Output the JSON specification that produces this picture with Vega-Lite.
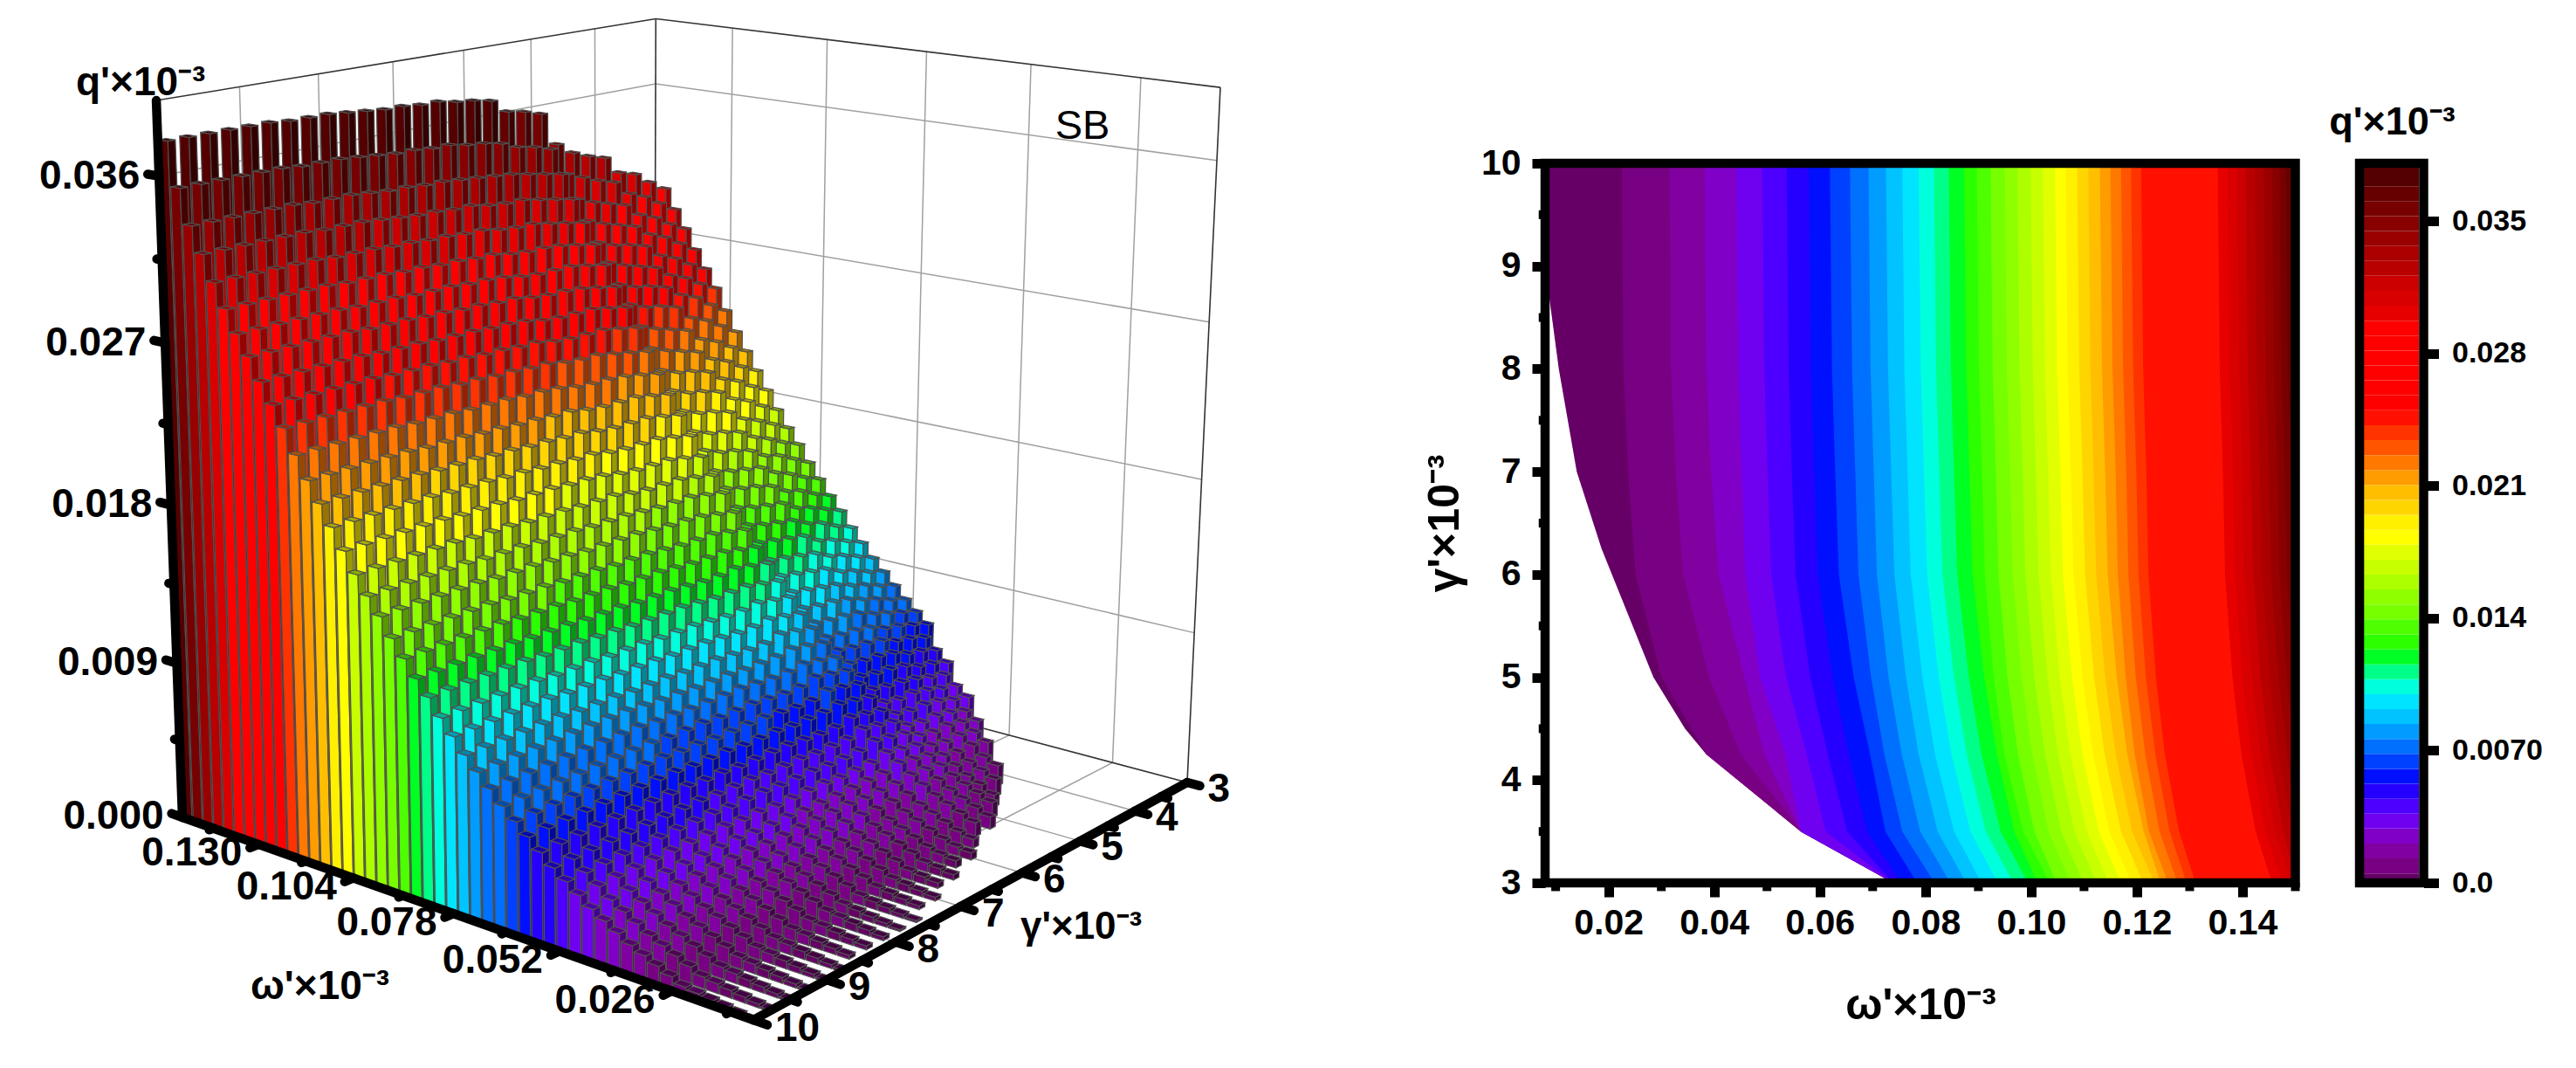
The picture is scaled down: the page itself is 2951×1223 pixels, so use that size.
{"$schema":"https://vega.github.io/schema/vega-lite/v6.json","width":2951,"height":1223,"autosize":{"type":"none"},"padding":0,"background":"white",
"config":{"view":{"stroke":null},"font":"Liberation Sans"},
"params":[{"name":"pal","value":["#660066","#780082","#8000a0","#8000c8","#7000f0","#4d00ff","#2600ff","#0010ff","#0040ff","#0070ff","#009cff","#00c3ff","#00e4ff","#00ffdc","#00ff88","#00ff22","#2bff00","#4dff00","#77ff00","#8fff00","#adff00","#c8ff00","#e0ff00","#ffff00","#fff000","#ffd500","#ffbf00","#ff9c00","#ff7800","#ff5500","#ff3300","#ff1000","#ff0000","#ff0000","#ff0000","#ff0000","#ff0000","#ff0000","#e60000","#d80000","#cc0000","#b80000","#aa0000","#990000","#880000","#770000","#660000","#550000"]}],
"datasets":{
"bars":[
{"w":0.15,"g":3,"q":0.0296},{"w":0.147,"g":3,"q":0.0284},{"w":0.144,"g":3,"q":0.0273},{"w":0.141,"g":3,"q":0.0261},{"w":0.138,"g":3,"q":0.025},{"w":0.135,"g":3,"q":0.0239},{"w":0.132,"g":3,"q":0.0226},{"w":0.129,"g":3,"q":0.0214},{"w":0.126,"g":3,"q":0.0203},{"w":0.123,"g":3,"q":0.0192},{"w":0.12,"g":3,"q":0.0181},{"w":0.117,"g":3,"q":0.017},{"w":0.114,"g":3,"q":0.016},{"w":0.111,"g":3,"q":0.0151},{"w":0.108,"g":3,"q":0.0141},{"w":0.105,"g":3,"q":0.0132},{"w":0.102,"g":3,"q":0.0123},{"w":0.099,"g":3,"q":0.0115},{"w":0.096,"g":3,"q":0.0106},{"w":0.093,"g":3,"q":0.0098},{"w":0.09,"g":3,"q":0.009},{"w":0.087,"g":3,"q":0.0083},{"w":0.084,"g":3,"q":0.0076},{"w":0.081,"g":3,"q":0.0069},{"w":0.078,"g":3,"q":0.0063},{"w":0.075,"g":3,"q":0.0057},
{"w":0.15,"g":3.25,"q":0.0302},{"w":0.147,"g":3.25,"q":0.029},{"w":0.144,"g":3.25,"q":0.0278},{"w":0.141,"g":3.25,"q":0.0267},{"w":0.138,"g":3.25,"q":0.0255},{"w":0.135,"g":3.25,"q":0.0244},{"w":0.132,"g":3.25,"q":0.0232},{"w":0.129,"g":3.25,"q":0.022},{"w":0.126,"g":3.25,"q":0.0208},{"w":0.123,"g":3.25,"q":0.0197},{"w":0.12,"g":3.25,"q":0.0186},{"w":0.117,"g":3.25,"q":0.0175},{"w":0.114,"g":3.25,"q":0.0165},{"w":0.111,"g":3.25,"q":0.0155},{"w":0.108,"g":3.25,"q":0.0146},{"w":0.105,"g":3.25,"q":0.0136},{"w":0.102,"g":3.25,"q":0.0127},{"w":0.099,"g":3.25,"q":0.0119},{"w":0.096,"g":3.25,"q":0.011},{"w":0.093,"g":3.25,"q":0.0102},{"w":0.09,"g":3.25,"q":0.0094},{"w":0.087,"g":3.25,"q":0.0086},{"w":0.084,"g":3.25,"q":0.0079},{"w":0.081,"g":3.25,"q":0.0072},{"w":0.078,"g":3.25,"q":0.0066},{"w":0.075,"g":3.25,"q":0.006},{"w":0.072,"g":3.25,"q":0.0054},{"w":0.069,"g":3.25,"q":0.0048},{"w":0.066,"g":3.25,"q":0.0042},
{"w":0.15,"g":3.5,"q":0.0309},{"w":0.147,"g":3.5,"q":0.0296},{"w":0.144,"g":3.5,"q":0.0284},{"w":0.141,"g":3.5,"q":0.0273},{"w":0.138,"g":3.5,"q":0.0261},{"w":0.135,"g":3.5,"q":0.025},{"w":0.132,"g":3.5,"q":0.0239},{"w":0.129,"g":3.5,"q":0.0226},{"w":0.126,"g":3.5,"q":0.0214},{"w":0.123,"g":3.5,"q":0.0203},{"w":0.12,"g":3.5,"q":0.0192},{"w":0.117,"g":3.5,"q":0.0181},{"w":0.114,"g":3.5,"q":0.017},{"w":0.111,"g":3.5,"q":0.016},{"w":0.108,"g":3.5,"q":0.0151},{"w":0.105,"g":3.5,"q":0.0141},{"w":0.102,"g":3.5,"q":0.0132},{"w":0.099,"g":3.5,"q":0.0123},{"w":0.096,"g":3.5,"q":0.0115},{"w":0.093,"g":3.5,"q":0.0106},{"w":0.09,"g":3.5,"q":0.0098},{"w":0.087,"g":3.5,"q":0.009},{"w":0.084,"g":3.5,"q":0.0083},{"w":0.081,"g":3.5,"q":0.0076},{"w":0.078,"g":3.5,"q":0.0069},{"w":0.075,"g":3.5,"q":0.0063},{"w":0.072,"g":3.5,"q":0.0057},{"w":0.069,"g":3.5,"q":0.0051},{"w":0.066,"g":3.5,"q":0.0045},{"w":0.063,"g":3.5,"q":0.004},{"w":0.06,"g":3.5,"q":0.0035},{"w":0.057,"g":3.5,"q":0.003},
{"w":0.15,"g":3.75,"q":0.0312},{"w":0.147,"g":3.75,"q":0.03},{"w":0.144,"g":3.75,"q":0.0288},{"w":0.141,"g":3.75,"q":0.0277},{"w":0.138,"g":3.75,"q":0.0265},{"w":0.135,"g":3.75,"q":0.0254},{"w":0.132,"g":3.75,"q":0.0243},{"w":0.129,"g":3.75,"q":0.023},{"w":0.126,"g":3.75,"q":0.0218},{"w":0.123,"g":3.75,"q":0.0207},{"w":0.12,"g":3.75,"q":0.0196},{"w":0.117,"g":3.75,"q":0.0185},{"w":0.114,"g":3.75,"q":0.0174},{"w":0.111,"g":3.75,"q":0.0164},{"w":0.108,"g":3.75,"q":0.0154},{"w":0.105,"g":3.75,"q":0.0145},{"w":0.102,"g":3.75,"q":0.0135},{"w":0.099,"g":3.75,"q":0.0126},{"w":0.096,"g":3.75,"q":0.0118},{"w":0.093,"g":3.75,"q":0.0109},{"w":0.09,"g":3.75,"q":0.0101},{"w":0.087,"g":3.75,"q":0.0093},{"w":0.084,"g":3.75,"q":0.0086},{"w":0.081,"g":3.75,"q":0.0079},{"w":0.078,"g":3.75,"q":0.0072},{"w":0.075,"g":3.75,"q":0.0065},{"w":0.072,"g":3.75,"q":0.0059},{"w":0.069,"g":3.75,"q":0.0053},{"w":0.066,"g":3.75,"q":0.0047},{"w":0.063,"g":3.75,"q":0.0042},{"w":0.06,"g":3.75,"q":0.0037},{"w":0.057,"g":3.75,"q":0.0032},{"w":0.054,"g":3.75,"q":0.0027},{"w":0.051,"g":3.75,"q":0.0023},
{"w":0.15,"g":4,"q":0.0323},{"w":0.147,"g":4,"q":0.0309},{"w":0.144,"g":4,"q":0.0296},{"w":0.141,"g":4,"q":0.0284},{"w":0.138,"g":4,"q":0.0273},{"w":0.135,"g":4,"q":0.0261},{"w":0.132,"g":4,"q":0.025},{"w":0.129,"g":4,"q":0.0239},{"w":0.126,"g":4,"q":0.0226},{"w":0.123,"g":4,"q":0.0214},{"w":0.12,"g":4,"q":0.0203},{"w":0.117,"g":4,"q":0.0192},{"w":0.114,"g":4,"q":0.0181},{"w":0.111,"g":4,"q":0.017},{"w":0.108,"g":4,"q":0.016},{"w":0.105,"g":4,"q":0.0151},{"w":0.102,"g":4,"q":0.0141},{"w":0.099,"g":4,"q":0.0132},{"w":0.096,"g":4,"q":0.0123},{"w":0.093,"g":4,"q":0.0115},{"w":0.09,"g":4,"q":0.0106},{"w":0.087,"g":4,"q":0.0098},{"w":0.084,"g":4,"q":0.009},{"w":0.081,"g":4,"q":0.0083},{"w":0.078,"g":4,"q":0.0076},{"w":0.075,"g":4,"q":0.0069},{"w":0.072,"g":4,"q":0.0063},{"w":0.069,"g":4,"q":0.0057},{"w":0.066,"g":4,"q":0.0051},{"w":0.063,"g":4,"q":0.0045},{"w":0.06,"g":4,"q":0.004},{"w":0.057,"g":4,"q":0.0035},{"w":0.054,"g":4,"q":0.003},{"w":0.051,"g":4,"q":0.0026},{"w":0.048,"g":4,"q":0.0022},{"w":0.045,"g":4,"q":0.0018},
{"w":0.15,"g":4.25,"q":0.0326},{"w":0.147,"g":4.25,"q":0.0312},{"w":0.144,"g":4.25,"q":0.0299},{"w":0.141,"g":4.25,"q":0.0287},{"w":0.138,"g":4.25,"q":0.0276},{"w":0.135,"g":4.25,"q":0.0264},{"w":0.132,"g":4.25,"q":0.0253},{"w":0.129,"g":4.25,"q":0.0242},{"w":0.126,"g":4.25,"q":0.0229},{"w":0.123,"g":4.25,"q":0.0217},{"w":0.12,"g":4.25,"q":0.0206},{"w":0.117,"g":4.25,"q":0.0195},{"w":0.114,"g":4.25,"q":0.0184},{"w":0.111,"g":4.25,"q":0.0173},{"w":0.108,"g":4.25,"q":0.0163},{"w":0.105,"g":4.25,"q":0.0153},{"w":0.102,"g":4.25,"q":0.0144},{"w":0.099,"g":4.25,"q":0.0134},{"w":0.096,"g":4.25,"q":0.0125},{"w":0.093,"g":4.25,"q":0.0117},{"w":0.09,"g":4.25,"q":0.0108},{"w":0.087,"g":4.25,"q":0.01},{"w":0.084,"g":4.25,"q":0.0092},{"w":0.081,"g":4.25,"q":0.0085},{"w":0.078,"g":4.25,"q":0.0078},{"w":0.075,"g":4.25,"q":0.0071},{"w":0.072,"g":4.25,"q":0.0065},{"w":0.069,"g":4.25,"q":0.0059},{"w":0.066,"g":4.25,"q":0.0053},{"w":0.063,"g":4.25,"q":0.0047},{"w":0.06,"g":4.25,"q":0.0042},{"w":0.057,"g":4.25,"q":0.0037},{"w":0.054,"g":4.25,"q":0.0032},{"w":0.051,"g":4.25,"q":0.0028},{"w":0.048,"g":4.25,"q":0.0024},{"w":0.045,"g":4.25,"q":0.002},{"w":0.042,"g":4.25,"q":0.0015},{"w":0.039,"g":4.25,"q":0.0012},
{"w":0.15,"g":4.5,"q":0.033},{"w":0.147,"g":4.5,"q":0.0316},{"w":0.144,"g":4.5,"q":0.0302},{"w":0.141,"g":4.5,"q":0.029},{"w":0.138,"g":4.5,"q":0.0278},{"w":0.135,"g":4.5,"q":0.0267},{"w":0.132,"g":4.5,"q":0.0255},{"w":0.129,"g":4.5,"q":0.0244},{"w":0.126,"g":4.5,"q":0.0232},{"w":0.123,"g":4.5,"q":0.022},{"w":0.12,"g":4.5,"q":0.0208},{"w":0.117,"g":4.5,"q":0.0197},{"w":0.114,"g":4.5,"q":0.0186},{"w":0.111,"g":4.5,"q":0.0175},{"w":0.108,"g":4.5,"q":0.0165},{"w":0.105,"g":4.5,"q":0.0155},{"w":0.102,"g":4.5,"q":0.0146},{"w":0.099,"g":4.5,"q":0.0136},{"w":0.096,"g":4.5,"q":0.0127},{"w":0.093,"g":4.5,"q":0.0119},{"w":0.09,"g":4.5,"q":0.011},{"w":0.087,"g":4.5,"q":0.0102},{"w":0.084,"g":4.5,"q":0.0094},{"w":0.081,"g":4.5,"q":0.0086},{"w":0.078,"g":4.5,"q":0.0079},{"w":0.075,"g":4.5,"q":0.0072},{"w":0.072,"g":4.5,"q":0.0066},{"w":0.069,"g":4.5,"q":0.006},{"w":0.066,"g":4.5,"q":0.0054},{"w":0.063,"g":4.5,"q":0.0048},{"w":0.06,"g":4.5,"q":0.0042},{"w":0.057,"g":4.5,"q":0.0037},{"w":0.054,"g":4.5,"q":0.0032},{"w":0.051,"g":4.5,"q":0.0028},{"w":0.048,"g":4.5,"q":0.0024},{"w":0.045,"g":4.5,"q":0.002},{"w":0.042,"g":4.5,"q":0.0016},{"w":0.039,"g":4.5,"q":0.0013},{"w":0.036,"g":4.5,"q":0.001},
{"w":0.15,"g":4.75,"q":0.0337},{"w":0.147,"g":4.75,"q":0.032},{"w":0.144,"g":4.75,"q":0.0306},{"w":0.141,"g":4.75,"q":0.0294},{"w":0.138,"g":4.75,"q":0.0282},{"w":0.135,"g":4.75,"q":0.0271},{"w":0.132,"g":4.75,"q":0.0259},{"w":0.129,"g":4.75,"q":0.0248},{"w":0.126,"g":4.75,"q":0.0236},{"w":0.123,"g":4.75,"q":0.0224},{"w":0.12,"g":4.75,"q":0.0212},{"w":0.117,"g":4.75,"q":0.0201},{"w":0.114,"g":4.75,"q":0.019},{"w":0.111,"g":4.75,"q":0.0179},{"w":0.108,"g":4.75,"q":0.0169},{"w":0.105,"g":4.75,"q":0.0158},{"w":0.102,"g":4.75,"q":0.0149},{"w":0.099,"g":4.75,"q":0.0139},{"w":0.096,"g":4.75,"q":0.013},{"w":0.093,"g":4.75,"q":0.0121},{"w":0.09,"g":4.75,"q":0.0112},{"w":0.087,"g":4.75,"q":0.0104},{"w":0.084,"g":4.75,"q":0.0096},{"w":0.081,"g":4.75,"q":0.0088},{"w":0.078,"g":4.75,"q":0.0081},{"w":0.075,"g":4.75,"q":0.0074},{"w":0.072,"g":4.75,"q":0.0068},{"w":0.069,"g":4.75,"q":0.0062},{"w":0.066,"g":4.75,"q":0.0056},{"w":0.063,"g":4.75,"q":0.005},{"w":0.06,"g":4.75,"q":0.0044},{"w":0.057,"g":4.75,"q":0.0039},{"w":0.054,"g":4.75,"q":0.0034},{"w":0.051,"g":4.75,"q":0.003},{"w":0.048,"g":4.75,"q":0.0026},{"w":0.045,"g":4.75,"q":0.0022},{"w":0.042,"g":4.75,"q":0.0018},{"w":0.039,"g":4.75,"q":0.0014},{"w":0.036,"g":4.75,"q":0.0011},{"w":0.033,"g":4.75,"q":0.0007},
{"w":0.15,"g":5,"q":0.0357},{"w":0.147,"g":5,"q":0.0337},{"w":0.144,"g":5,"q":0.0323},{"w":0.141,"g":5,"q":0.0309},{"w":0.138,"g":5,"q":0.0296},{"w":0.135,"g":5,"q":0.0284},{"w":0.132,"g":5,"q":0.0273},{"w":0.129,"g":5,"q":0.0261},{"w":0.126,"g":5,"q":0.025},{"w":0.123,"g":5,"q":0.0239},{"w":0.12,"g":5,"q":0.0226},{"w":0.117,"g":5,"q":0.0214},{"w":0.114,"g":5,"q":0.0203},{"w":0.111,"g":5,"q":0.0192},{"w":0.108,"g":5,"q":0.0181},{"w":0.105,"g":5,"q":0.017},{"w":0.102,"g":5,"q":0.016},{"w":0.099,"g":5,"q":0.0151},{"w":0.096,"g":5,"q":0.0141},{"w":0.093,"g":5,"q":0.0132},{"w":0.09,"g":5,"q":0.0123},{"w":0.087,"g":5,"q":0.0115},{"w":0.084,"g":5,"q":0.0106},{"w":0.081,"g":5,"q":0.0098},{"w":0.078,"g":5,"q":0.009},{"w":0.075,"g":5,"q":0.0083},{"w":0.072,"g":5,"q":0.0076},{"w":0.069,"g":5,"q":0.0069},{"w":0.066,"g":5,"q":0.0063},{"w":0.063,"g":5,"q":0.0057},{"w":0.06,"g":5,"q":0.0051},{"w":0.057,"g":5,"q":0.0045},{"w":0.054,"g":5,"q":0.004},{"w":0.051,"g":5,"q":0.0035},{"w":0.048,"g":5,"q":0.003},{"w":0.045,"g":5,"q":0.0026},{"w":0.042,"g":5,"q":0.0022},{"w":0.039,"g":5,"q":0.0018},{"w":0.036,"g":5,"q":0.0015},{"w":0.033,"g":5,"q":0.0012},{"w":0.03,"g":5,"q":0.0009},
{"w":0.15,"g":5.25,"q":0.036},{"w":0.147,"g":5.25,"q":0.034},{"w":0.144,"g":5.25,"q":0.0325},{"w":0.141,"g":5.25,"q":0.0311},{"w":0.138,"g":5.25,"q":0.0298},{"w":0.135,"g":5.25,"q":0.0286},{"w":0.132,"g":5.25,"q":0.0275},{"w":0.129,"g":5.25,"q":0.0263},{"w":0.126,"g":5.25,"q":0.0252},{"w":0.123,"g":5.25,"q":0.0241},{"w":0.12,"g":5.25,"q":0.0228},{"w":0.117,"g":5.25,"q":0.0216},{"w":0.114,"g":5.25,"q":0.0205},{"w":0.111,"g":5.25,"q":0.0194},{"w":0.108,"g":5.25,"q":0.0183},{"w":0.105,"g":5.25,"q":0.0172},{"w":0.102,"g":5.25,"q":0.0162},{"w":0.099,"g":5.25,"q":0.0153},{"w":0.096,"g":5.25,"q":0.0143},{"w":0.093,"g":5.25,"q":0.0134},{"w":0.09,"g":5.25,"q":0.0125},{"w":0.087,"g":5.25,"q":0.0117},{"w":0.084,"g":5.25,"q":0.0108},{"w":0.081,"g":5.25,"q":0.01},{"w":0.078,"g":5.25,"q":0.0092},{"w":0.075,"g":5.25,"q":0.0085},{"w":0.072,"g":5.25,"q":0.0078},{"w":0.069,"g":5.25,"q":0.0071},{"w":0.066,"g":5.25,"q":0.0065},{"w":0.063,"g":5.25,"q":0.0059},{"w":0.06,"g":5.25,"q":0.0053},{"w":0.057,"g":5.25,"q":0.0047},{"w":0.054,"g":5.25,"q":0.0042},{"w":0.051,"g":5.25,"q":0.0037},{"w":0.048,"g":5.25,"q":0.0032},{"w":0.045,"g":5.25,"q":0.0028},{"w":0.042,"g":5.25,"q":0.0024},{"w":0.039,"g":5.25,"q":0.002},{"w":0.036,"g":5.25,"q":0.0016},{"w":0.033,"g":5.25,"q":0.0013},{"w":0.03,"g":5.25,"q":0.001},{"w":0.027,"g":5.25,"q":0.0007},
{"w":0.15,"g":5.5,"q":0.0362},{"w":0.147,"g":5.5,"q":0.0342},{"w":0.144,"g":5.5,"q":0.0327},{"w":0.141,"g":5.5,"q":0.0313},{"w":0.138,"g":5.5,"q":0.03},{"w":0.135,"g":5.5,"q":0.0288},{"w":0.132,"g":5.5,"q":0.0277},{"w":0.129,"g":5.5,"q":0.0265},{"w":0.126,"g":5.5,"q":0.0254},{"w":0.123,"g":5.5,"q":0.0243},{"w":0.12,"g":5.5,"q":0.023},{"w":0.117,"g":5.5,"q":0.0218},{"w":0.114,"g":5.5,"q":0.0207},{"w":0.111,"g":5.5,"q":0.0196},{"w":0.108,"g":5.5,"q":0.0185},{"w":0.105,"g":5.5,"q":0.0174},{"w":0.102,"g":5.5,"q":0.0164},{"w":0.099,"g":5.5,"q":0.0155},{"w":0.096,"g":5.5,"q":0.0145},{"w":0.093,"g":5.5,"q":0.0136},{"w":0.09,"g":5.5,"q":0.0127},{"w":0.087,"g":5.5,"q":0.0119},{"w":0.084,"g":5.5,"q":0.011},{"w":0.081,"g":5.5,"q":0.0102},{"w":0.078,"g":5.5,"q":0.0094},{"w":0.075,"g":5.5,"q":0.0087},{"w":0.072,"g":5.5,"q":0.008},{"w":0.069,"g":5.5,"q":0.0073},{"w":0.066,"g":5.5,"q":0.0067},{"w":0.063,"g":5.5,"q":0.0061},{"w":0.06,"g":5.5,"q":0.0055},{"w":0.057,"g":5.5,"q":0.0049},{"w":0.054,"g":5.5,"q":0.0044},{"w":0.051,"g":5.5,"q":0.0039},{"w":0.048,"g":5.5,"q":0.0034},{"w":0.045,"g":5.5,"q":0.003},{"w":0.042,"g":5.5,"q":0.0025},{"w":0.039,"g":5.5,"q":0.0021},{"w":0.036,"g":5.5,"q":0.0017},{"w":0.033,"g":5.5,"q":0.0014},{"w":0.03,"g":5.5,"q":0.0011},{"w":0.027,"g":5.5,"q":0.0008},
{"w":0.15,"g":5.75,"q":0.037},{"w":0.147,"g":5.75,"q":0.0346},{"w":0.144,"g":5.75,"q":0.0329},{"w":0.141,"g":5.75,"q":0.0315},{"w":0.138,"g":5.75,"q":0.0302},{"w":0.135,"g":5.75,"q":0.0289},{"w":0.132,"g":5.75,"q":0.0277},{"w":0.129,"g":5.75,"q":0.0266},{"w":0.126,"g":5.75,"q":0.0254},{"w":0.123,"g":5.75,"q":0.0243},{"w":0.12,"g":5.75,"q":0.0232},{"w":0.117,"g":5.75,"q":0.0219},{"w":0.114,"g":5.75,"q":0.0207},{"w":0.111,"g":5.75,"q":0.0196},{"w":0.108,"g":5.75,"q":0.0185},{"w":0.105,"g":5.75,"q":0.0174},{"w":0.102,"g":5.75,"q":0.0164},{"w":0.099,"g":5.75,"q":0.0155},{"w":0.096,"g":5.75,"q":0.0146},{"w":0.093,"g":5.75,"q":0.0136},{"w":0.09,"g":5.75,"q":0.0127},{"w":0.087,"g":5.75,"q":0.0118},{"w":0.084,"g":5.75,"q":0.011},{"w":0.081,"g":5.75,"q":0.0101},{"w":0.078,"g":5.75,"q":0.0093},{"w":0.075,"g":5.75,"q":0.0085},{"w":0.072,"g":5.75,"q":0.0079},{"w":0.069,"g":5.75,"q":0.0072},{"w":0.066,"g":5.75,"q":0.0065},{"w":0.063,"g":5.75,"q":0.0059},{"w":0.06,"g":5.75,"q":0.0054},{"w":0.057,"g":5.75,"q":0.0047},{"w":0.054,"g":5.75,"q":0.0042},{"w":0.051,"g":5.75,"q":0.0037},{"w":0.048,"g":5.75,"q":0.0032},{"w":0.045,"g":5.75,"q":0.0028},{"w":0.042,"g":5.75,"q":0.0024},{"w":0.039,"g":5.75,"q":0.002},{"w":0.036,"g":5.75,"q":0.0016},{"w":0.033,"g":5.75,"q":0.0013},{"w":0.03,"g":5.75,"q":0.001},{"w":0.027,"g":5.75,"q":0.0007},{"w":0.024,"g":5.75,"q":0.0005},
{"w":0.15,"g":6,"q":0.0372},{"w":0.147,"g":6,"q":0.0348},{"w":0.144,"g":6,"q":0.033},{"w":0.141,"g":6,"q":0.0315},{"w":0.138,"g":6,"q":0.0302},{"w":0.135,"g":6,"q":0.0289},{"w":0.132,"g":6,"q":0.0277},{"w":0.129,"g":6,"q":0.0266},{"w":0.126,"g":6,"q":0.0254},{"w":0.123,"g":6,"q":0.0243},{"w":0.12,"g":6,"q":0.0232},{"w":0.117,"g":6,"q":0.0219},{"w":0.114,"g":6,"q":0.0207},{"w":0.111,"g":6,"q":0.0196},{"w":0.108,"g":6,"q":0.0185},{"w":0.105,"g":6,"q":0.0174},{"w":0.102,"g":6,"q":0.0164},{"w":0.099,"g":6,"q":0.0155},{"w":0.096,"g":6,"q":0.0146},{"w":0.093,"g":6,"q":0.0136},{"w":0.09,"g":6,"q":0.0127},{"w":0.087,"g":6,"q":0.0118},{"w":0.084,"g":6,"q":0.011},{"w":0.081,"g":6,"q":0.0101},{"w":0.078,"g":6,"q":0.0093},{"w":0.075,"g":6,"q":0.0085},{"w":0.072,"g":6,"q":0.0079},{"w":0.069,"g":6,"q":0.0072},{"w":0.066,"g":6,"q":0.0065},{"w":0.063,"g":6,"q":0.0059},{"w":0.06,"g":6,"q":0.0054},{"w":0.057,"g":6,"q":0.0047},{"w":0.054,"g":6,"q":0.0042},{"w":0.051,"g":6,"q":0.0037},{"w":0.048,"g":6,"q":0.0032},{"w":0.045,"g":6,"q":0.0028},{"w":0.042,"g":6,"q":0.0024},{"w":0.039,"g":6,"q":0.002},{"w":0.036,"g":6,"q":0.0016},{"w":0.033,"g":6,"q":0.0013},{"w":0.03,"g":6,"q":0.001},{"w":0.027,"g":6,"q":0.0007},{"w":0.024,"g":6,"q":0.0005},{"w":0.021,"g":6,"q":0.0004},
{"w":0.15,"g":6.25,"q":0.0373},{"w":0.147,"g":6.25,"q":0.0349},{"w":0.144,"g":6.25,"q":0.0331},{"w":0.141,"g":6.25,"q":0.0316},{"w":0.138,"g":6.25,"q":0.0303},{"w":0.135,"g":6.25,"q":0.029},{"w":0.132,"g":6.25,"q":0.0278},{"w":0.129,"g":6.25,"q":0.0267},{"w":0.126,"g":6.25,"q":0.0255},{"w":0.123,"g":6.25,"q":0.0244},{"w":0.12,"g":6.25,"q":0.0233},{"w":0.117,"g":6.25,"q":0.022},{"w":0.114,"g":6.25,"q":0.0208},{"w":0.111,"g":6.25,"q":0.0197},{"w":0.108,"g":6.25,"q":0.0186},{"w":0.105,"g":6.25,"q":0.0175},{"w":0.102,"g":6.25,"q":0.0165},{"w":0.099,"g":6.25,"q":0.0156},{"w":0.096,"g":6.25,"q":0.0147},{"w":0.093,"g":6.25,"q":0.0137},{"w":0.09,"g":6.25,"q":0.0128},{"w":0.087,"g":6.25,"q":0.0119},{"w":0.084,"g":6.25,"q":0.0111},{"w":0.081,"g":6.25,"q":0.0102},{"w":0.078,"g":6.25,"q":0.0094},{"w":0.075,"g":6.25,"q":0.0086},{"w":0.072,"g":6.25,"q":0.0079},{"w":0.069,"g":6.25,"q":0.0073},{"w":0.066,"g":6.25,"q":0.0066},{"w":0.063,"g":6.25,"q":0.006},{"w":0.06,"g":6.25,"q":0.0054},{"w":0.057,"g":6.25,"q":0.0048},{"w":0.054,"g":6.25,"q":0.0042},{"w":0.051,"g":6.25,"q":0.0037},{"w":0.048,"g":6.25,"q":0.0032},{"w":0.045,"g":6.25,"q":0.0028},{"w":0.042,"g":6.25,"q":0.0024},{"w":0.039,"g":6.25,"q":0.002},{"w":0.036,"g":6.25,"q":0.0016},{"w":0.033,"g":6.25,"q":0.0013},{"w":0.03,"g":6.25,"q":0.001},{"w":0.027,"g":6.25,"q":0.0007},{"w":0.024,"g":6.25,"q":0.0005},{"w":0.021,"g":6.25,"q":0.0004},
{"w":0.15,"g":6.5,"q":0.0375},{"w":0.147,"g":6.5,"q":0.0351},{"w":0.144,"g":6.5,"q":0.0332},{"w":0.141,"g":6.5,"q":0.0318},{"w":0.138,"g":6.5,"q":0.0305},{"w":0.135,"g":6.5,"q":0.0292},{"w":0.132,"g":6.5,"q":0.028},{"w":0.129,"g":6.5,"q":0.0269},{"w":0.126,"g":6.5,"q":0.0257},{"w":0.123,"g":6.5,"q":0.0246},{"w":0.12,"g":6.5,"q":0.0235},{"w":0.117,"g":6.5,"q":0.0222},{"w":0.114,"g":6.5,"q":0.021},{"w":0.111,"g":6.5,"q":0.0199},{"w":0.108,"g":6.5,"q":0.0188},{"w":0.105,"g":6.5,"q":0.0177},{"w":0.102,"g":6.5,"q":0.0167},{"w":0.099,"g":6.5,"q":0.0157},{"w":0.096,"g":6.5,"q":0.0148},{"w":0.093,"g":6.5,"q":0.0138},{"w":0.09,"g":6.5,"q":0.0129},{"w":0.087,"g":6.5,"q":0.012},{"w":0.084,"g":6.5,"q":0.0112},{"w":0.081,"g":6.5,"q":0.0103},{"w":0.078,"g":6.5,"q":0.0095},{"w":0.075,"g":6.5,"q":0.0087},{"w":0.072,"g":6.5,"q":0.008},{"w":0.069,"g":6.5,"q":0.0074},{"w":0.066,"g":6.5,"q":0.0067},{"w":0.063,"g":6.5,"q":0.0061},{"w":0.06,"g":6.5,"q":0.0055},{"w":0.057,"g":6.5,"q":0.0049},{"w":0.054,"g":6.5,"q":0.0043},{"w":0.051,"g":6.5,"q":0.0038},{"w":0.048,"g":6.5,"q":0.0033},{"w":0.045,"g":6.5,"q":0.0028},{"w":0.042,"g":6.5,"q":0.0025},{"w":0.039,"g":6.5,"q":0.0021},{"w":0.036,"g":6.5,"q":0.0017},{"w":0.033,"g":6.5,"q":0.0014},{"w":0.03,"g":6.5,"q":0.0011},{"w":0.027,"g":6.5,"q":0.0008},{"w":0.024,"g":6.5,"q":0.0005},{"w":0.021,"g":6.5,"q":0.0004},{"w":0.018,"g":6.5,"q":0.0003},
{"w":0.15,"g":6.75,"q":0.0375},{"w":0.147,"g":6.75,"q":0.0351},{"w":0.144,"g":6.75,"q":0.0333},{"w":0.141,"g":6.75,"q":0.0318},{"w":0.138,"g":6.75,"q":0.0305},{"w":0.135,"g":6.75,"q":0.0292},{"w":0.132,"g":6.75,"q":0.0281},{"w":0.129,"g":6.75,"q":0.0269},{"w":0.126,"g":6.75,"q":0.0258},{"w":0.123,"g":6.75,"q":0.0246},{"w":0.12,"g":6.75,"q":0.0235},{"w":0.117,"g":6.75,"q":0.0223},{"w":0.114,"g":6.75,"q":0.021},{"w":0.111,"g":6.75,"q":0.0199},{"w":0.108,"g":6.75,"q":0.0188},{"w":0.105,"g":6.75,"q":0.0178},{"w":0.102,"g":6.75,"q":0.0167},{"w":0.099,"g":6.75,"q":0.0157},{"w":0.096,"g":6.75,"q":0.0148},{"w":0.093,"g":6.75,"q":0.0138},{"w":0.09,"g":6.75,"q":0.0129},{"w":0.087,"g":6.75,"q":0.012},{"w":0.084,"g":6.75,"q":0.0112},{"w":0.081,"g":6.75,"q":0.0103},{"w":0.078,"g":6.75,"q":0.0095},{"w":0.075,"g":6.75,"q":0.0087},{"w":0.072,"g":6.75,"q":0.008},{"w":0.069,"g":6.75,"q":0.0074},{"w":0.066,"g":6.75,"q":0.0067},{"w":0.063,"g":6.75,"q":0.0061},{"w":0.06,"g":6.75,"q":0.0055},{"w":0.057,"g":6.75,"q":0.0049},{"w":0.054,"g":6.75,"q":0.0043},{"w":0.051,"g":6.75,"q":0.0038},{"w":0.048,"g":6.75,"q":0.0033},{"w":0.045,"g":6.75,"q":0.0028},{"w":0.042,"g":6.75,"q":0.0025},{"w":0.039,"g":6.75,"q":0.0021},{"w":0.036,"g":6.75,"q":0.0017},{"w":0.033,"g":6.75,"q":0.0014},{"w":0.03,"g":6.75,"q":0.0011},{"w":0.027,"g":6.75,"q":0.0008},{"w":0.024,"g":6.75,"q":0.0005},{"w":0.021,"g":6.75,"q":0.0004},{"w":0.018,"g":6.75,"q":0.0003},
{"w":0.15,"g":7,"q":0.0376},{"w":0.147,"g":7,"q":0.0352},{"w":0.144,"g":7,"q":0.0333},{"w":0.141,"g":7,"q":0.0319},{"w":0.138,"g":7,"q":0.0306},{"w":0.135,"g":7,"q":0.0293},{"w":0.132,"g":7,"q":0.0281},{"w":0.129,"g":7,"q":0.027},{"w":0.126,"g":7,"q":0.0258},{"w":0.123,"g":7,"q":0.0247},{"w":0.12,"g":7,"q":0.0236},{"w":0.117,"g":7,"q":0.0223},{"w":0.114,"g":7,"q":0.0211},{"w":0.111,"g":7,"q":0.02},{"w":0.108,"g":7,"q":0.0189},{"w":0.105,"g":7,"q":0.0178},{"w":0.102,"g":7,"q":0.0167},{"w":0.099,"g":7,"q":0.0157},{"w":0.096,"g":7,"q":0.0148},{"w":0.093,"g":7,"q":0.0138},{"w":0.09,"g":7,"q":0.0129},{"w":0.087,"g":7,"q":0.012},{"w":0.084,"g":7,"q":0.0112},{"w":0.081,"g":7,"q":0.0103},{"w":0.078,"g":7,"q":0.0095},{"w":0.075,"g":7,"q":0.0087},{"w":0.072,"g":7,"q":0.008},{"w":0.069,"g":7,"q":0.0074},{"w":0.066,"g":7,"q":0.0067},{"w":0.063,"g":7,"q":0.0061},{"w":0.06,"g":7,"q":0.0055},{"w":0.057,"g":7,"q":0.0049},{"w":0.054,"g":7,"q":0.0043},{"w":0.051,"g":7,"q":0.0038},{"w":0.048,"g":7,"q":0.0033},{"w":0.045,"g":7,"q":0.0028},{"w":0.042,"g":7,"q":0.0025},{"w":0.039,"g":7,"q":0.0021},{"w":0.036,"g":7,"q":0.0017},{"w":0.033,"g":7,"q":0.0014},{"w":0.03,"g":7,"q":0.0011},{"w":0.027,"g":7,"q":0.0008},{"w":0.024,"g":7,"q":0.0005},{"w":0.021,"g":7,"q":0.0004},{"w":0.018,"g":7,"q":0.0003},{"w":0.015,"g":7,"q":0.0002},
{"w":0.15,"g":7.25,"q":0.0376},{"w":0.147,"g":7.25,"q":0.0352},{"w":0.144,"g":7.25,"q":0.0334},{"w":0.141,"g":7.25,"q":0.0319},{"w":0.138,"g":7.25,"q":0.0306},{"w":0.135,"g":7.25,"q":0.0293},{"w":0.132,"g":7.25,"q":0.0282},{"w":0.129,"g":7.25,"q":0.027},{"w":0.126,"g":7.25,"q":0.0259},{"w":0.123,"g":7.25,"q":0.0247},{"w":0.12,"g":7.25,"q":0.0236},{"w":0.117,"g":7.25,"q":0.0224},{"w":0.114,"g":7.25,"q":0.0211},{"w":0.111,"g":7.25,"q":0.02},{"w":0.108,"g":7.25,"q":0.0189},{"w":0.105,"g":7.25,"q":0.0179},{"w":0.102,"g":7.25,"q":0.0168},{"w":0.099,"g":7.25,"q":0.0158},{"w":0.096,"g":7.25,"q":0.0148},{"w":0.093,"g":7.25,"q":0.0139},{"w":0.09,"g":7.25,"q":0.013},{"w":0.087,"g":7.25,"q":0.0121},{"w":0.084,"g":7.25,"q":0.0112},{"w":0.081,"g":7.25,"q":0.0104},{"w":0.078,"g":7.25,"q":0.0096},{"w":0.075,"g":7.25,"q":0.0088},{"w":0.072,"g":7.25,"q":0.0081},{"w":0.069,"g":7.25,"q":0.0074},{"w":0.066,"g":7.25,"q":0.0068},{"w":0.063,"g":7.25,"q":0.0061},{"w":0.06,"g":7.25,"q":0.0056},{"w":0.057,"g":7.25,"q":0.0049},{"w":0.054,"g":7.25,"q":0.0044},{"w":0.051,"g":7.25,"q":0.0039},{"w":0.048,"g":7.25,"q":0.0033},{"w":0.045,"g":7.25,"q":0.0029},{"w":0.042,"g":7.25,"q":0.0025},{"w":0.039,"g":7.25,"q":0.0021},{"w":0.036,"g":7.25,"q":0.0017},{"w":0.033,"g":7.25,"q":0.0014},{"w":0.03,"g":7.25,"q":0.0011},{"w":0.027,"g":7.25,"q":0.0008},{"w":0.024,"g":7.25,"q":0.0005},{"w":0.021,"g":7.25,"q":0.0004},{"w":0.018,"g":7.25,"q":0.0003},{"w":0.015,"g":7.25,"q":0.0002},
{"w":0.15,"g":7.5,"q":0.0377},{"w":0.147,"g":7.5,"q":0.0353},{"w":0.144,"g":7.5,"q":0.0334},{"w":0.141,"g":7.5,"q":0.032},{"w":0.138,"g":7.5,"q":0.0307},{"w":0.135,"g":7.5,"q":0.0294},{"w":0.132,"g":7.5,"q":0.0282},{"w":0.129,"g":7.5,"q":0.0271},{"w":0.126,"g":7.5,"q":0.0259},{"w":0.123,"g":7.5,"q":0.0248},{"w":0.12,"g":7.5,"q":0.0237},{"w":0.117,"g":7.5,"q":0.0224},{"w":0.114,"g":7.5,"q":0.0212},{"w":0.111,"g":7.5,"q":0.0201},{"w":0.108,"g":7.5,"q":0.019},{"w":0.105,"g":7.5,"q":0.0179},{"w":0.102,"g":7.5,"q":0.0168},{"w":0.099,"g":7.5,"q":0.0158},{"w":0.096,"g":7.5,"q":0.0149},{"w":0.093,"g":7.5,"q":0.0139},{"w":0.09,"g":7.5,"q":0.013},{"w":0.087,"g":7.5,"q":0.0121},{"w":0.084,"g":7.5,"q":0.0113},{"w":0.081,"g":7.5,"q":0.0104},{"w":0.078,"g":7.5,"q":0.0096},{"w":0.075,"g":7.5,"q":0.0088},{"w":0.072,"g":7.5,"q":0.0081},{"w":0.069,"g":7.5,"q":0.0075},{"w":0.066,"g":7.5,"q":0.0068},{"w":0.063,"g":7.5,"q":0.0062},{"w":0.06,"g":7.5,"q":0.0056},{"w":0.057,"g":7.5,"q":0.005},{"w":0.054,"g":7.5,"q":0.0044},{"w":0.051,"g":7.5,"q":0.0039},{"w":0.048,"g":7.5,"q":0.0034},{"w":0.045,"g":7.5,"q":0.0029},{"w":0.042,"g":7.5,"q":0.0025},{"w":0.039,"g":7.5,"q":0.0021},{"w":0.036,"g":7.5,"q":0.0017},{"w":0.033,"g":7.5,"q":0.0014},{"w":0.03,"g":7.5,"q":0.0011},{"w":0.027,"g":7.5,"q":0.0008},{"w":0.024,"g":7.5,"q":0.0005},{"w":0.021,"g":7.5,"q":0.0004},{"w":0.018,"g":7.5,"q":0.0003},{"w":0.015,"g":7.5,"q":0.0002},{"w":0.012,"g":7.5,"q":0.0001},
{"w":0.15,"g":7.75,"q":0.0378},{"w":0.147,"g":7.75,"q":0.0354},{"w":0.144,"g":7.75,"q":0.0335},{"w":0.141,"g":7.75,"q":0.0321},{"w":0.138,"g":7.75,"q":0.0307},{"w":0.135,"g":7.75,"q":0.0294},{"w":0.132,"g":7.75,"q":0.0282},{"w":0.129,"g":7.75,"q":0.0271},{"w":0.126,"g":7.75,"q":0.0259},{"w":0.123,"g":7.75,"q":0.0248},{"w":0.12,"g":7.75,"q":0.0237},{"w":0.117,"g":7.75,"q":0.0224},{"w":0.114,"g":7.75,"q":0.0212},{"w":0.111,"g":7.75,"q":0.0201},{"w":0.108,"g":7.75,"q":0.019},{"w":0.105,"g":7.75,"q":0.0179},{"w":0.102,"g":7.75,"q":0.0168},{"w":0.099,"g":7.75,"q":0.0158},{"w":0.096,"g":7.75,"q":0.0149},{"w":0.093,"g":7.75,"q":0.0139},{"w":0.09,"g":7.75,"q":0.013},{"w":0.087,"g":7.75,"q":0.0121},{"w":0.084,"g":7.75,"q":0.0113},{"w":0.081,"g":7.75,"q":0.0104},{"w":0.078,"g":7.75,"q":0.0096},{"w":0.075,"g":7.75,"q":0.0088},{"w":0.072,"g":7.75,"q":0.0082},{"w":0.069,"g":7.75,"q":0.0075},{"w":0.066,"g":7.75,"q":0.0068},{"w":0.063,"g":7.75,"q":0.0062},{"w":0.06,"g":7.75,"q":0.0056},{"w":0.057,"g":7.75,"q":0.005},{"w":0.054,"g":7.75,"q":0.0044},{"w":0.051,"g":7.75,"q":0.0039},{"w":0.048,"g":7.75,"q":0.0034},{"w":0.045,"g":7.75,"q":0.0029},{"w":0.042,"g":7.75,"q":0.0025},{"w":0.039,"g":7.75,"q":0.0021},{"w":0.036,"g":7.75,"q":0.0017},{"w":0.033,"g":7.75,"q":0.0014},{"w":0.03,"g":7.75,"q":0.0011},{"w":0.027,"g":7.75,"q":0.0008},{"w":0.024,"g":7.75,"q":0.0005},{"w":0.021,"g":7.75,"q":0.0004},{"w":0.018,"g":7.75,"q":0.0003},{"w":0.015,"g":7.75,"q":0.0002},{"w":0.012,"g":7.75,"q":0.0001},
{"w":0.15,"g":8,"q":0.0379},{"w":0.147,"g":8,"q":0.0355},{"w":0.144,"g":8,"q":0.0336},{"w":0.141,"g":8,"q":0.0322},{"w":0.138,"g":8,"q":0.0308},{"w":0.135,"g":8,"q":0.0295},{"w":0.132,"g":8,"q":0.0283},{"w":0.129,"g":8,"q":0.0272},{"w":0.126,"g":8,"q":0.026},{"w":0.123,"g":8,"q":0.0249},{"w":0.12,"g":8,"q":0.0238},{"w":0.117,"g":8,"q":0.0225},{"w":0.114,"g":8,"q":0.0213},{"w":0.111,"g":8,"q":0.0202},{"w":0.108,"g":8,"q":0.0191},{"w":0.105,"g":8,"q":0.018},{"w":0.102,"g":8,"q":0.0169},{"w":0.099,"g":8,"q":0.0159},{"w":0.096,"g":8,"q":0.015},{"w":0.093,"g":8,"q":0.014},{"w":0.09,"g":8,"q":0.0131},{"w":0.087,"g":8,"q":0.0122},{"w":0.084,"g":8,"q":0.0114},{"w":0.081,"g":8,"q":0.0105},{"w":0.078,"g":8,"q":0.0097},{"w":0.075,"g":8,"q":0.0089},{"w":0.072,"g":8,"q":0.0083},{"w":0.069,"g":8,"q":0.0076},{"w":0.066,"g":8,"q":0.0069},{"w":0.063,"g":8,"q":0.0063},{"w":0.06,"g":8,"q":0.0057},{"w":0.057,"g":8,"q":0.0051},{"w":0.054,"g":8,"q":0.0045},{"w":0.051,"g":8,"q":0.004},{"w":0.048,"g":8,"q":0.0035},{"w":0.045,"g":8,"q":0.003},{"w":0.042,"g":8,"q":0.0026},{"w":0.039,"g":8,"q":0.0022},{"w":0.036,"g":8,"q":0.0018},{"w":0.033,"g":8,"q":0.0015},{"w":0.03,"g":8,"q":0.0012},{"w":0.027,"g":8,"q":0.0009},{"w":0.024,"g":8,"q":0.0006},{"w":0.021,"g":8,"q":0.0005},{"w":0.018,"g":8,"q":0.0004},{"w":0.015,"g":8,"q":0.0003},{"w":0.012,"g":8,"q":0.0002},
{"w":0.15,"g":8.25,"q":0.0379},{"w":0.147,"g":8.25,"q":0.0355},{"w":0.144,"g":8.25,"q":0.0336},{"w":0.141,"g":8.25,"q":0.0322},{"w":0.138,"g":8.25,"q":0.0308},{"w":0.135,"g":8.25,"q":0.0295},{"w":0.132,"g":8.25,"q":0.0283},{"w":0.129,"g":8.25,"q":0.0272},{"w":0.126,"g":8.25,"q":0.026},{"w":0.123,"g":8.25,"q":0.0249},{"w":0.12,"g":8.25,"q":0.0238},{"w":0.117,"g":8.25,"q":0.0225},{"w":0.114,"g":8.25,"q":0.0213},{"w":0.111,"g":8.25,"q":0.0202},{"w":0.108,"g":8.25,"q":0.0191},{"w":0.105,"g":8.25,"q":0.018},{"w":0.102,"g":8.25,"q":0.0169},{"w":0.099,"g":8.25,"q":0.0159},{"w":0.096,"g":8.25,"q":0.015},{"w":0.093,"g":8.25,"q":0.014},{"w":0.09,"g":8.25,"q":0.0131},{"w":0.087,"g":8.25,"q":0.0122},{"w":0.084,"g":8.25,"q":0.0114},{"w":0.081,"g":8.25,"q":0.0105},{"w":0.078,"g":8.25,"q":0.0097},{"w":0.075,"g":8.25,"q":0.0089},{"w":0.072,"g":8.25,"q":0.0083},{"w":0.069,"g":8.25,"q":0.0076},{"w":0.066,"g":8.25,"q":0.0069},{"w":0.063,"g":8.25,"q":0.0063},{"w":0.06,"g":8.25,"q":0.0057},{"w":0.057,"g":8.25,"q":0.0051},{"w":0.054,"g":8.25,"q":0.0045},{"w":0.051,"g":8.25,"q":0.004},{"w":0.048,"g":8.25,"q":0.0035},{"w":0.045,"g":8.25,"q":0.003},{"w":0.042,"g":8.25,"q":0.0026},{"w":0.039,"g":8.25,"q":0.0022},{"w":0.036,"g":8.25,"q":0.0018},{"w":0.033,"g":8.25,"q":0.0015},{"w":0.03,"g":8.25,"q":0.0012},{"w":0.027,"g":8.25,"q":0.0009},{"w":0.024,"g":8.25,"q":0.0006},{"w":0.021,"g":8.25,"q":0.0005},{"w":0.018,"g":8.25,"q":0.0004},{"w":0.015,"g":8.25,"q":0.0003},{"w":0.012,"g":8.25,"q":0.0002},
{"w":0.15,"g":8.5,"q":0.0379},{"w":0.147,"g":8.5,"q":0.0355},{"w":0.144,"g":8.5,"q":0.0336},{"w":0.141,"g":8.5,"q":0.0322},{"w":0.138,"g":8.5,"q":0.0308},{"w":0.135,"g":8.5,"q":0.0295},{"w":0.132,"g":8.5,"q":0.0283},{"w":0.129,"g":8.5,"q":0.0272},{"w":0.126,"g":8.5,"q":0.026},{"w":0.123,"g":8.5,"q":0.0249},{"w":0.12,"g":8.5,"q":0.0238},{"w":0.117,"g":8.5,"q":0.0225},{"w":0.114,"g":8.5,"q":0.0213},{"w":0.111,"g":8.5,"q":0.0202},{"w":0.108,"g":8.5,"q":0.0191},{"w":0.105,"g":8.5,"q":0.018},{"w":0.102,"g":8.5,"q":0.0169},{"w":0.099,"g":8.5,"q":0.0159},{"w":0.096,"g":8.5,"q":0.015},{"w":0.093,"g":8.5,"q":0.014},{"w":0.09,"g":8.5,"q":0.0131},{"w":0.087,"g":8.5,"q":0.0122},{"w":0.084,"g":8.5,"q":0.0114},{"w":0.081,"g":8.5,"q":0.0105},{"w":0.078,"g":8.5,"q":0.0097},{"w":0.075,"g":8.5,"q":0.0089},{"w":0.072,"g":8.5,"q":0.0083},{"w":0.069,"g":8.5,"q":0.0076},{"w":0.066,"g":8.5,"q":0.0069},{"w":0.063,"g":8.5,"q":0.0063},{"w":0.06,"g":8.5,"q":0.0057},{"w":0.057,"g":8.5,"q":0.0051},{"w":0.054,"g":8.5,"q":0.0045},{"w":0.051,"g":8.5,"q":0.004},{"w":0.048,"g":8.5,"q":0.0035},{"w":0.045,"g":8.5,"q":0.003},{"w":0.042,"g":8.5,"q":0.0026},{"w":0.039,"g":8.5,"q":0.0022},{"w":0.036,"g":8.5,"q":0.0018},{"w":0.033,"g":8.5,"q":0.0015},{"w":0.03,"g":8.5,"q":0.0012},{"w":0.027,"g":8.5,"q":0.0009},{"w":0.024,"g":8.5,"q":0.0006},{"w":0.021,"g":8.5,"q":0.0005},{"w":0.018,"g":8.5,"q":0.0004},{"w":0.015,"g":8.5,"q":0.0003},{"w":0.012,"g":8.5,"q":0.0002},
{"w":0.15,"g":8.75,"q":0.038},{"w":0.147,"g":8.75,"q":0.0356},{"w":0.144,"g":8.75,"q":0.0337},{"w":0.141,"g":8.75,"q":0.0323},{"w":0.138,"g":8.75,"q":0.0309},{"w":0.135,"g":8.75,"q":0.0296},{"w":0.132,"g":8.75,"q":0.0284},{"w":0.129,"g":8.75,"q":0.0273},{"w":0.126,"g":8.75,"q":0.0261},{"w":0.123,"g":8.75,"q":0.025},{"w":0.12,"g":8.75,"q":0.0239},{"w":0.117,"g":8.75,"q":0.0226},{"w":0.114,"g":8.75,"q":0.0214},{"w":0.111,"g":8.75,"q":0.0203},{"w":0.108,"g":8.75,"q":0.0192},{"w":0.105,"g":8.75,"q":0.0181},{"w":0.102,"g":8.75,"q":0.017},{"w":0.099,"g":8.75,"q":0.016},{"w":0.096,"g":8.75,"q":0.0151},{"w":0.093,"g":8.75,"q":0.0141},{"w":0.09,"g":8.75,"q":0.0132},{"w":0.087,"g":8.75,"q":0.0123},{"w":0.084,"g":8.75,"q":0.0115},{"w":0.081,"g":8.75,"q":0.0106},{"w":0.078,"g":8.75,"q":0.0098},{"w":0.075,"g":8.75,"q":0.009},{"w":0.072,"g":8.75,"q":0.0083},{"w":0.069,"g":8.75,"q":0.0076},{"w":0.066,"g":8.75,"q":0.0069},{"w":0.063,"g":8.75,"q":0.0063},{"w":0.06,"g":8.75,"q":0.0057},{"w":0.057,"g":8.75,"q":0.0051},{"w":0.054,"g":8.75,"q":0.0045},{"w":0.051,"g":8.75,"q":0.004},{"w":0.048,"g":8.75,"q":0.0035},{"w":0.045,"g":8.75,"q":0.003},{"w":0.042,"g":8.75,"q":0.0026},{"w":0.039,"g":8.75,"q":0.0022},{"w":0.036,"g":8.75,"q":0.0018},{"w":0.033,"g":8.75,"q":0.0015},{"w":0.03,"g":8.75,"q":0.0012},{"w":0.027,"g":8.75,"q":0.0009},{"w":0.024,"g":8.75,"q":0.0006},{"w":0.021,"g":8.75,"q":0.0005},{"w":0.018,"g":8.75,"q":0.0004},{"w":0.015,"g":8.75,"q":0.0003},{"w":0.012,"g":8.75,"q":0.0002},{"w":0.009,"g":8.75,"q":0.0001},
{"w":0.15,"g":9,"q":0.038},{"w":0.147,"g":9,"q":0.0356},{"w":0.144,"g":9,"q":0.0337},{"w":0.141,"g":9,"q":0.0323},{"w":0.138,"g":9,"q":0.0309},{"w":0.135,"g":9,"q":0.0296},{"w":0.132,"g":9,"q":0.0284},{"w":0.129,"g":9,"q":0.0273},{"w":0.126,"g":9,"q":0.0261},{"w":0.123,"g":9,"q":0.025},{"w":0.12,"g":9,"q":0.0239},{"w":0.117,"g":9,"q":0.0226},{"w":0.114,"g":9,"q":0.0214},{"w":0.111,"g":9,"q":0.0203},{"w":0.108,"g":9,"q":0.0192},{"w":0.105,"g":9,"q":0.0181},{"w":0.102,"g":9,"q":0.017},{"w":0.099,"g":9,"q":0.016},{"w":0.096,"g":9,"q":0.0151},{"w":0.093,"g":9,"q":0.0141},{"w":0.09,"g":9,"q":0.0132},{"w":0.087,"g":9,"q":0.0123},{"w":0.084,"g":9,"q":0.0115},{"w":0.081,"g":9,"q":0.0106},{"w":0.078,"g":9,"q":0.0098},{"w":0.075,"g":9,"q":0.009},{"w":0.072,"g":9,"q":0.0083},{"w":0.069,"g":9,"q":0.0076},{"w":0.066,"g":9,"q":0.0069},{"w":0.063,"g":9,"q":0.0063},{"w":0.06,"g":9,"q":0.0057},{"w":0.057,"g":9,"q":0.0051},{"w":0.054,"g":9,"q":0.0045},{"w":0.051,"g":9,"q":0.004},{"w":0.048,"g":9,"q":0.0035},{"w":0.045,"g":9,"q":0.003},{"w":0.042,"g":9,"q":0.0026},{"w":0.039,"g":9,"q":0.0022},{"w":0.036,"g":9,"q":0.0018},{"w":0.033,"g":9,"q":0.0015},{"w":0.03,"g":9,"q":0.0012},{"w":0.027,"g":9,"q":0.0009},{"w":0.024,"g":9,"q":0.0006},{"w":0.021,"g":9,"q":0.0005},{"w":0.018,"g":9,"q":0.0004},{"w":0.015,"g":9,"q":0.0003},{"w":0.012,"g":9,"q":0.0002},{"w":0.009,"g":9,"q":0.0001},
{"w":0.15,"g":9.25,"q":0.038},{"w":0.147,"g":9.25,"q":0.0356},{"w":0.144,"g":9.25,"q":0.0337},{"w":0.141,"g":9.25,"q":0.0323},{"w":0.138,"g":9.25,"q":0.0309},{"w":0.135,"g":9.25,"q":0.0296},{"w":0.132,"g":9.25,"q":0.0284},{"w":0.129,"g":9.25,"q":0.0273},{"w":0.126,"g":9.25,"q":0.0261},{"w":0.123,"g":9.25,"q":0.025},{"w":0.12,"g":9.25,"q":0.0239},{"w":0.117,"g":9.25,"q":0.0226},{"w":0.114,"g":9.25,"q":0.0214},{"w":0.111,"g":9.25,"q":0.0203},{"w":0.108,"g":9.25,"q":0.0192},{"w":0.105,"g":9.25,"q":0.0181},{"w":0.102,"g":9.25,"q":0.017},{"w":0.099,"g":9.25,"q":0.016},{"w":0.096,"g":9.25,"q":0.0151},{"w":0.093,"g":9.25,"q":0.0141},{"w":0.09,"g":9.25,"q":0.0132},{"w":0.087,"g":9.25,"q":0.0123},{"w":0.084,"g":9.25,"q":0.0115},{"w":0.081,"g":9.25,"q":0.0106},{"w":0.078,"g":9.25,"q":0.0098},{"w":0.075,"g":9.25,"q":0.009},{"w":0.072,"g":9.25,"q":0.0083},{"w":0.069,"g":9.25,"q":0.0076},{"w":0.066,"g":9.25,"q":0.0069},{"w":0.063,"g":9.25,"q":0.0063},{"w":0.06,"g":9.25,"q":0.0057},{"w":0.057,"g":9.25,"q":0.0051},{"w":0.054,"g":9.25,"q":0.0045},{"w":0.051,"g":9.25,"q":0.004},{"w":0.048,"g":9.25,"q":0.0035},{"w":0.045,"g":9.25,"q":0.003},{"w":0.042,"g":9.25,"q":0.0026},{"w":0.039,"g":9.25,"q":0.0022},{"w":0.036,"g":9.25,"q":0.0018},{"w":0.033,"g":9.25,"q":0.0015},{"w":0.03,"g":9.25,"q":0.0012},{"w":0.027,"g":9.25,"q":0.0009},{"w":0.024,"g":9.25,"q":0.0006},{"w":0.021,"g":9.25,"q":0.0005},{"w":0.018,"g":9.25,"q":0.0004},{"w":0.015,"g":9.25,"q":0.0003},{"w":0.012,"g":9.25,"q":0.0002},{"w":0.009,"g":9.25,"q":0.0001},
{"w":0.15,"g":9.5,"q":0.038},{"w":0.147,"g":9.5,"q":0.0356},{"w":0.144,"g":9.5,"q":0.0337},{"w":0.141,"g":9.5,"q":0.0323},{"w":0.138,"g":9.5,"q":0.0309},{"w":0.135,"g":9.5,"q":0.0296},{"w":0.132,"g":9.5,"q":0.0284},{"w":0.129,"g":9.5,"q":0.0273},{"w":0.126,"g":9.5,"q":0.0261},{"w":0.123,"g":9.5,"q":0.025},{"w":0.12,"g":9.5,"q":0.0239},{"w":0.117,"g":9.5,"q":0.0226},{"w":0.114,"g":9.5,"q":0.0214},{"w":0.111,"g":9.5,"q":0.0203},{"w":0.108,"g":9.5,"q":0.0192},{"w":0.105,"g":9.5,"q":0.0181},{"w":0.102,"g":9.5,"q":0.017},{"w":0.099,"g":9.5,"q":0.016},{"w":0.096,"g":9.5,"q":0.0151},{"w":0.093,"g":9.5,"q":0.0141},{"w":0.09,"g":9.5,"q":0.0132},{"w":0.087,"g":9.5,"q":0.0123},{"w":0.084,"g":9.5,"q":0.0115},{"w":0.081,"g":9.5,"q":0.0106},{"w":0.078,"g":9.5,"q":0.0098},{"w":0.075,"g":9.5,"q":0.009},{"w":0.072,"g":9.5,"q":0.0083},{"w":0.069,"g":9.5,"q":0.0076},{"w":0.066,"g":9.5,"q":0.0069},{"w":0.063,"g":9.5,"q":0.0063},{"w":0.06,"g":9.5,"q":0.0057},{"w":0.057,"g":9.5,"q":0.0051},{"w":0.054,"g":9.5,"q":0.0045},{"w":0.051,"g":9.5,"q":0.004},{"w":0.048,"g":9.5,"q":0.0035},{"w":0.045,"g":9.5,"q":0.003},{"w":0.042,"g":9.5,"q":0.0026},{"w":0.039,"g":9.5,"q":0.0022},{"w":0.036,"g":9.5,"q":0.0018},{"w":0.033,"g":9.5,"q":0.0015},{"w":0.03,"g":9.5,"q":0.0012},{"w":0.027,"g":9.5,"q":0.0009},{"w":0.024,"g":9.5,"q":0.0006},{"w":0.021,"g":9.5,"q":0.0005},{"w":0.018,"g":9.5,"q":0.0004},{"w":0.015,"g":9.5,"q":0.0003},{"w":0.012,"g":9.5,"q":0.0002},{"w":0.009,"g":9.5,"q":0.0001},
{"w":0.15,"g":9.75,"q":0.038},{"w":0.147,"g":9.75,"q":0.0356},{"w":0.144,"g":9.75,"q":0.0337},{"w":0.141,"g":9.75,"q":0.0323},{"w":0.138,"g":9.75,"q":0.0309},{"w":0.135,"g":9.75,"q":0.0296},{"w":0.132,"g":9.75,"q":0.0284},{"w":0.129,"g":9.75,"q":0.0273},{"w":0.126,"g":9.75,"q":0.0261},{"w":0.123,"g":9.75,"q":0.025},{"w":0.12,"g":9.75,"q":0.0239},{"w":0.117,"g":9.75,"q":0.0226},{"w":0.114,"g":9.75,"q":0.0214},{"w":0.111,"g":9.75,"q":0.0203},{"w":0.108,"g":9.75,"q":0.0192},{"w":0.105,"g":9.75,"q":0.0181},{"w":0.102,"g":9.75,"q":0.017},{"w":0.099,"g":9.75,"q":0.016},{"w":0.096,"g":9.75,"q":0.0151},{"w":0.093,"g":9.75,"q":0.0141},{"w":0.09,"g":9.75,"q":0.0132},{"w":0.087,"g":9.75,"q":0.0123},{"w":0.084,"g":9.75,"q":0.0115},{"w":0.081,"g":9.75,"q":0.0106},{"w":0.078,"g":9.75,"q":0.0098},{"w":0.075,"g":9.75,"q":0.009},{"w":0.072,"g":9.75,"q":0.0083},{"w":0.069,"g":9.75,"q":0.0076},{"w":0.066,"g":9.75,"q":0.0069},{"w":0.063,"g":9.75,"q":0.0063},{"w":0.06,"g":9.75,"q":0.0057},{"w":0.057,"g":9.75,"q":0.0051},{"w":0.054,"g":9.75,"q":0.0045},{"w":0.051,"g":9.75,"q":0.004},{"w":0.048,"g":9.75,"q":0.0035},{"w":0.045,"g":9.75,"q":0.003},{"w":0.042,"g":9.75,"q":0.0026},{"w":0.039,"g":9.75,"q":0.0022},{"w":0.036,"g":9.75,"q":0.0018},{"w":0.033,"g":9.75,"q":0.0015},{"w":0.03,"g":9.75,"q":0.0012},{"w":0.027,"g":9.75,"q":0.0009},{"w":0.024,"g":9.75,"q":0.0006},{"w":0.021,"g":9.75,"q":0.0005},{"w":0.018,"g":9.75,"q":0.0004},{"w":0.015,"g":9.75,"q":0.0003},{"w":0.012,"g":9.75,"q":0.0002},{"w":0.009,"g":9.75,"q":0.0001},
{"w":0.15,"g":10,"q":0.038},{"w":0.147,"g":10,"q":0.0356},{"w":0.144,"g":10,"q":0.0337},{"w":0.141,"g":10,"q":0.0323},{"w":0.138,"g":10,"q":0.0309},{"w":0.135,"g":10,"q":0.0296},{"w":0.132,"g":10,"q":0.0284},{"w":0.129,"g":10,"q":0.0273},{"w":0.126,"g":10,"q":0.0261},{"w":0.123,"g":10,"q":0.025},{"w":0.12,"g":10,"q":0.0239},{"w":0.117,"g":10,"q":0.0226},{"w":0.114,"g":10,"q":0.0214},{"w":0.111,"g":10,"q":0.0203},{"w":0.108,"g":10,"q":0.0192},{"w":0.105,"g":10,"q":0.0181},{"w":0.102,"g":10,"q":0.017},{"w":0.099,"g":10,"q":0.016},{"w":0.096,"g":10,"q":0.0151},{"w":0.093,"g":10,"q":0.0141},{"w":0.09,"g":10,"q":0.0132},{"w":0.087,"g":10,"q":0.0123},{"w":0.084,"g":10,"q":0.0115},{"w":0.081,"g":10,"q":0.0106},{"w":0.078,"g":10,"q":0.0098},{"w":0.075,"g":10,"q":0.009},{"w":0.072,"g":10,"q":0.0083},{"w":0.069,"g":10,"q":0.0076},{"w":0.066,"g":10,"q":0.0069},{"w":0.063,"g":10,"q":0.0063},{"w":0.06,"g":10,"q":0.0057},{"w":0.057,"g":10,"q":0.0051},{"w":0.054,"g":10,"q":0.0045},{"w":0.051,"g":10,"q":0.004},{"w":0.048,"g":10,"q":0.0035},{"w":0.045,"g":10,"q":0.003},{"w":0.042,"g":10,"q":0.0026},{"w":0.039,"g":10,"q":0.0022},{"w":0.036,"g":10,"q":0.0018},{"w":0.033,"g":10,"q":0.0015},{"w":0.03,"g":10,"q":0.0012},{"w":0.027,"g":10,"q":0.0009},{"w":0.024,"g":10,"q":0.0006},{"w":0.021,"g":10,"q":0.0005},{"w":0.018,"g":10,"q":0.0004},{"w":0.015,"g":10,"q":0.0003},{"w":0.012,"g":10,"q":0.0002},{"w":0.009,"g":10,"q":0.0001}
],
"frame":[
{"kind":"grid","w":0.13,"g":3,"q":0,"w2":0.13,"g2":3,"q2":0.04},{"kind":"grid","w":0.104,"g":3,"q":0,"w2":0.104,"g2":3,"q2":0.04},{"kind":"grid","w":0.078,"g":3,"q":0,"w2":0.078,"g2":3,"q2":0.04},{"kind":"grid","w":0.052,"g":3,"q":0,"w2":0.052,"g2":3,"q2":0.04},{"kind":"grid","w":0.026,"g":3,"q":0,"w2":0.026,"g2":3,"q2":0.04},
{"kind":"grid","w":0.152,"g":3,"q":0.009,"w2":0.008,"g2":3,"q2":0.009},{"kind":"grid","w":0.152,"g":3,"q":0.018,"w2":0.008,"g2":3,"q2":0.018},{"kind":"grid","w":0.152,"g":3,"q":0.027,"w2":0.008,"g2":3,"q2":0.027},{"kind":"grid","w":0.152,"g":3,"q":0.036,"w2":0.008,"g2":3,"q2":0.036},
{"kind":"grid","w":0.152,"g":4,"q":0,"w2":0.152,"g2":4,"q2":0.04},{"kind":"grid","w":0.152,"g":5,"q":0,"w2":0.152,"g2":5,"q2":0.04},{"kind":"grid","w":0.152,"g":6,"q":0,"w2":0.152,"g2":6,"q2":0.04},{"kind":"grid","w":0.152,"g":7,"q":0,"w2":0.152,"g2":7,"q2":0.04},{"kind":"grid","w":0.152,"g":8,"q":0,"w2":0.152,"g2":8,"q2":0.04},{"kind":"grid","w":0.152,"g":9,"q":0,"w2":0.152,"g2":9,"q2":0.04},
{"kind":"grid","w":0.152,"g":10,"q":0.036,"w2":0.152,"g2":3,"q2":0.036},{"kind":"grid","w":0.152,"g":10,"q":0.027,"w2":0.152,"g2":3,"q2":0.027},{"kind":"grid","w":0.152,"g":10,"q":0.018,"w2":0.152,"g2":3,"q2":0.018},{"kind":"grid","w":0.152,"g":10,"q":0.009,"w2":0.152,"g2":3,"q2":0.009},
{"kind":"grid","w":0.13,"g":3,"q":0,"w2":0.13,"g2":10,"q2":0},{"kind":"grid","w":0.104,"g":3,"q":0,"w2":0.104,"g2":10,"q2":0},{"kind":"grid","w":0.078,"g":3,"q":0,"w2":0.078,"g2":10,"q2":0},{"kind":"grid","w":0.052,"g":3,"q":0,"w2":0.052,"g2":10,"q2":0},{"kind":"grid","w":0.026,"g":3,"q":0,"w2":0.026,"g2":10,"q2":0},
{"kind":"grid","w":0.152,"g":4,"q":0,"w2":0.008,"g2":4,"q2":0},{"kind":"grid","w":0.152,"g":5,"q":0,"w2":0.008,"g2":5,"q2":0},{"kind":"grid","w":0.152,"g":6,"q":0,"w2":0.008,"g2":6,"q2":0},{"kind":"grid","w":0.152,"g":7,"q":0,"w2":0.008,"g2":7,"q2":0},{"kind":"grid","w":0.152,"g":8,"q":0,"w2":0.008,"g2":8,"q2":0},{"kind":"grid","w":0.152,"g":9,"q":0,"w2":0.008,"g2":9,"q2":0},
{"kind":"edge","w":0.152,"g":10,"q":0.04,"w2":0.152,"g2":3,"q2":0.04},{"kind":"edge","w":0.152,"g":3,"q":0.04,"w2":0.008,"g2":3,"q2":0.04},{"kind":"edge","w":0.152,"g":3,"q":0,"w2":0.152,"g2":3,"q2":0.04},{"kind":"edge","w":0.008,"g":3,"q":0,"w2":0.008,"g2":3,"q2":0.04},{"kind":"edge","w":0.152,"g":3,"q":0,"w2":0.008,"g2":3,"q2":0},{"kind":"edge","w":0.152,"g":10,"q":0,"w2":0.152,"g2":3,"q2":0},
{"kind":"axis","w":0.152,"g":10,"q":0,"w2":0.152,"g2":10,"q2":0.04},{"kind":"axis","w":0.152,"g":10,"q":0,"w2":0.008,"g2":10,"q2":0},{"kind":"axis","w":0.008,"g":10,"q":0,"w2":0.008,"g2":3,"q2":0},
{"kind":"axis","axis":"q","label":"0.000","w":0.152,"g":10,"q":0,"w2":0.1552,"g2":10,"q2":0},{"kind":"axis","axis":"q","label":"0.009","w":0.152,"g":10,"q":0.009,"w2":0.1552,"g2":10,"q2":0.009},{"kind":"axis","axis":"q","label":"0.018","w":0.152,"g":10,"q":0.018,"w2":0.1552,"g2":10,"q2":0.018},{"kind":"axis","axis":"q","label":"0.027","w":0.152,"g":10,"q":0.027,"w2":0.1552,"g2":10,"q2":0.027},{"kind":"axis","axis":"q","label":"0.036","w":0.152,"g":10,"q":0.036,"w2":0.1552,"g2":10,"q2":0.036},
{"kind":"axis","w":0.152,"g":10,"q":0.0045,"w2":0.1535,"g2":10,"q2":0.0045},{"kind":"axis","w":0.152,"g":10,"q":0.0135,"w2":0.1535,"g2":10,"q2":0.0135},{"kind":"axis","w":0.152,"g":10,"q":0.0225,"w2":0.1535,"g2":10,"q2":0.0225},{"kind":"axis","w":0.152,"g":10,"q":0.0315,"w2":0.1535,"g2":10,"q2":0.0315},
{"kind":"axis","axis":"w","label":"0.130","w":0.13,"g":10,"q":0,"w2":0.13,"g2":10.11,"q2":0},{"kind":"axis","axis":"w","label":"0.104","w":0.104,"g":10,"q":0,"w2":0.104,"g2":10.11,"q2":0},{"kind":"axis","axis":"w","label":"0.078","w":0.078,"g":10,"q":0,"w2":0.078,"g2":10.11,"q2":0},{"kind":"axis","axis":"w","label":"0.052","w":0.052,"g":10,"q":0,"w2":0.052,"g2":10.11,"q2":0},{"kind":"axis","axis":"w","label":"0.026","w":0.026,"g":10,"q":0,"w2":0.026,"g2":10.11,"q2":0},
{"kind":"axis","w":0.143,"g":10,"q":0,"w2":0.143,"g2":10.05,"q2":0},{"kind":"axis","w":0.117,"g":10,"q":0,"w2":0.117,"g2":10.05,"q2":0},{"kind":"axis","w":0.091,"g":10,"q":0,"w2":0.091,"g2":10.05,"q2":0},{"kind":"axis","w":0.065,"g":10,"q":0,"w2":0.065,"g2":10.05,"q2":0},{"kind":"axis","w":0.039,"g":10,"q":0,"w2":0.039,"g2":10.05,"q2":0},{"kind":"axis","w":0.013,"g":10,"q":0,"w2":0.013,"g2":10.05,"q2":0},
{"kind":"axis","axis":"g","label":"10","w":0.008,"g":10,"q":0,"w2":0.005,"g2":10,"q2":0},{"kind":"axis","axis":"g","label":"9","w":0.008,"g":9,"q":0,"w2":0.005,"g2":9,"q2":0},{"kind":"axis","axis":"g","label":"8","w":0.008,"g":8,"q":0,"w2":0.005,"g2":8,"q2":0},{"kind":"axis","axis":"g","label":"7","w":0.008,"g":7,"q":0,"w2":0.005,"g2":7,"q2":0},{"kind":"axis","axis":"g","label":"6","w":0.008,"g":6,"q":0,"w2":0.005,"g2":6,"q2":0},{"kind":"axis","axis":"g","label":"5","w":0.008,"g":5,"q":0,"w2":0.005,"g2":5,"q2":0},{"kind":"axis","axis":"g","label":"4","w":0.008,"g":4,"q":0,"w2":0.005,"g2":4,"q2":0},{"kind":"axis","axis":"g","label":"3","w":0.008,"g":3,"q":0,"w2":0.005,"g2":3,"q2":0},
{"kind":"axis","w":0.008,"g":9.5,"q":0,"w2":0.0065,"g2":9.5,"q2":0},{"kind":"axis","w":0.008,"g":8.5,"q":0,"w2":0.0065,"g2":8.5,"q2":0},{"kind":"axis","w":0.008,"g":7.5,"q":0,"w2":0.0065,"g2":7.5,"q2":0},{"kind":"axis","w":0.008,"g":6.5,"q":0,"w2":0.0065,"g2":6.5,"q2":0},{"kind":"axis","w":0.008,"g":5.5,"q":0,"w2":0.0065,"g2":5.5,"q2":0},{"kind":"axis","w":0.008,"g":4.5,"q":0,"w2":0.0065,"g2":4.5,"q2":0},{"kind":"axis","w":0.008,"g":3.5,"q":0,"w2":0.0065,"g2":3.5,"q2":0}
],
"iso":[
{"q":0.0001,"g":10,"w":0.008},{"q":0.0001,"g":9,"w":0.008},{"q":0.0001,"g":8,"w":0.0106},{"q":0.0001,"g":7,"w":0.014},{"q":0.0001,"g":6.25,"w":0.0187},{"q":0.0001,"g":5,"w":0.0285},{"q":0.0001,"g":4.5,"w":0.0345},{"q":0.0001,"g":4.25,"w":0.0385},{"q":0.0001,"g":3.5,"w":0.0564},{"q":0.0001,"g":3,"w":0.0739},
{"q":0.0007,"g":10,"w":0.0225},{"q":0.0007,"g":8,"w":0.0228},{"q":0.0007,"g":7,"w":0.0237},{"q":0.0007,"g":6,"w":0.0251},{"q":0.0007,"g":5,"w":0.03},{"q":0.0007,"g":4.25,"w":0.0385},{"q":0.0007,"g":3.5,"w":0.0564},{"q":0.0007,"g":3,"w":0.0739},
{"q":0.0015,"g":10,"w":0.0315},{"q":0.0015,"g":8,"w":0.0318},{"q":0.0015,"g":7,"w":0.0327},{"q":0.0015,"g":6,"w":0.0341},{"q":0.0015,"g":5,"w":0.039},{"q":0.0015,"g":4.25,"w":0.045},{"q":0.0015,"g":3.5,"w":0.0564},{"q":0.0015,"g":3,"w":0.0739},
{"q":0.0023,"g":10,"w":0.0382},{"q":0.0023,"g":8,"w":0.0385},{"q":0.0023,"g":7,"w":0.0394},{"q":0.0023,"g":6,"w":0.0408},{"q":0.0023,"g":5,"w":0.0457},{"q":0.0023,"g":4.25,"w":0.0495},{"q":0.0023,"g":3.5,"w":0.0564},{"q":0.0023,"g":3,"w":0.0739},
{"q":0.0031,"g":10,"w":0.0442},{"q":0.0031,"g":8,"w":0.0446},{"q":0.0031,"g":7,"w":0.0452},{"q":0.0031,"g":6,"w":0.0459},{"q":0.0031,"g":5,"w":0.0487},{"q":0.0031,"g":4.25,"w":0.0535},{"q":0.0031,"g":3.5,"w":0.0564},{"q":0.0031,"g":3,"w":0.0739},
{"q":0.0039,"g":10,"w":0.0491},{"q":0.0039,"g":8,"w":0.0495},{"q":0.0039,"g":7,"w":0.0501},{"q":0.0039,"g":6,"w":0.0508},{"q":0.0039,"g":5,"w":0.0536},{"q":0.0039,"g":4.25,"w":0.0575},{"q":0.0039,"g":3.5,"w":0.0611},{"q":0.0039,"g":3,"w":0.0739},
{"q":0.0047,"g":10,"w":0.0537},{"q":0.0047,"g":8,"w":0.0541},{"q":0.0047,"g":7,"w":0.0547},{"q":0.0047,"g":6,"w":0.0554},{"q":0.0047,"g":5,"w":0.0582},{"q":0.0047,"g":4.25,"w":0.0615},{"q":0.0047,"g":3.5,"w":0.0652},{"q":0.0047,"g":3,"w":0.0739},
{"q":0.0054,"g":10,"w":0.0579},{"q":0.0054,"g":8,"w":0.0583},{"q":0.0054,"g":7,"w":0.0589},{"q":0.0054,"g":6,"w":0.0596},{"q":0.0054,"g":5,"w":0.0624},{"q":0.0054,"g":4.25,"w":0.0655},{"q":0.0054,"g":3.5,"w":0.0689},{"q":0.0054,"g":3,"w":0.0755},
{"q":0.0062,"g":10,"w":0.0619},{"q":0.0062,"g":8,"w":0.0623},{"q":0.0062,"g":7,"w":0.0629},{"q":0.0062,"g":6,"w":0.0636},{"q":0.0062,"g":5,"w":0.0664},{"q":0.0062,"g":4.25,"w":0.0695},{"q":0.0062,"g":3.5,"w":0.0724},{"q":0.0062,"g":3,"w":0.0784},
{"q":0.007,"g":10,"w":0.0657},{"q":0.007,"g":8,"w":0.0661},{"q":0.007,"g":7,"w":0.0667},{"q":0.007,"g":6,"w":0.0673},{"q":0.007,"g":5,"w":0.0697},{"q":0.007,"g":4.25,"w":0.0722},{"q":0.007,"g":3.5,"w":0.0756},{"q":0.007,"g":3,"w":0.0817},
{"q":0.0078,"g":10,"w":0.0692},{"q":0.0078,"g":8,"w":0.0696},{"q":0.0078,"g":7,"w":0.0702},{"q":0.0078,"g":6,"w":0.0708},{"q":0.0078,"g":5,"w":0.073},{"q":0.0078,"g":4.25,"w":0.0755},{"q":0.0078,"g":3.5,"w":0.079},{"q":0.0078,"g":3,"w":0.0847},
{"q":0.0086,"g":10,"w":0.0725},{"q":0.0086,"g":8,"w":0.0729},{"q":0.0086,"g":7,"w":0.0735},{"q":0.0086,"g":6,"w":0.0741},{"q":0.0086,"g":5,"w":0.0763},{"q":0.0086,"g":4.25,"w":0.0787},{"q":0.0086,"g":3.5,"w":0.0823},{"q":0.0086,"g":3,"w":0.0877},
{"q":0.0094,"g":10,"w":0.0756},{"q":0.0094,"g":8,"w":0.076},{"q":0.0094,"g":7,"w":0.0766},{"q":0.0094,"g":6,"w":0.0772},{"q":0.0094,"g":5,"w":0.0794},{"q":0.0094,"g":4.25,"w":0.0818},{"q":0.0094,"g":3.5,"w":0.0854},{"q":0.0094,"g":3,"w":0.0906},
{"q":0.0102,"g":10,"w":0.0787},{"q":0.0102,"g":8,"w":0.0791},{"q":0.0102,"g":7,"w":0.0797},{"q":0.0102,"g":6,"w":0.0803},{"q":0.0102,"g":5,"w":0.0825},{"q":0.0102,"g":4.25,"w":0.0849},{"q":0.0102,"g":3.5,"w":0.0885},{"q":0.0102,"g":3,"w":0.0937},
{"q":0.011,"g":10,"w":0.0816},{"q":0.011,"g":8,"w":0.082},{"q":0.011,"g":7,"w":0.0826},{"q":0.011,"g":6,"w":0.0832},{"q":0.011,"g":5,"w":0.0854},{"q":0.011,"g":4.25,"w":0.0878},{"q":0.011,"g":3.5,"w":0.0914},{"q":0.011,"g":3,"w":0.0966},
{"q":0.0118,"g":10,"w":0.0844},{"q":0.0118,"g":8,"w":0.0848},{"q":0.0118,"g":7,"w":0.0854},{"q":0.0118,"g":6,"w":0.086},{"q":0.0118,"g":5,"w":0.0882},{"q":0.0118,"g":4.25,"w":0.0906},{"q":0.0118,"g":3.5,"w":0.0942},{"q":0.0118,"g":3,"w":0.0994},
{"q":0.0126,"g":10,"w":0.0873},{"q":0.0126,"g":8,"w":0.0877},{"q":0.0126,"g":7,"w":0.0883},{"q":0.0126,"g":6,"w":0.0889},{"q":0.0126,"g":5,"w":0.0911},{"q":0.0126,"g":4.25,"w":0.0935},{"q":0.0126,"g":3.5,"w":0.0968},{"q":0.0126,"g":3,"w":0.1012},
{"q":0.0133,"g":10,"w":0.0897},{"q":0.0133,"g":8,"w":0.0901},{"q":0.0133,"g":7,"w":0.0907},{"q":0.0133,"g":6,"w":0.0912},{"q":0.0133,"g":5,"w":0.0929},{"q":0.0133,"g":4.25,"w":0.0949},{"q":0.0133,"g":3.5,"w":0.0985},{"q":0.0133,"g":3,"w":0.1035},
{"q":0.0141,"g":10,"w":0.0923},{"q":0.0141,"g":8,"w":0.0927},{"q":0.0141,"g":7,"w":0.0933},{"q":0.0141,"g":6,"w":0.0938},{"q":0.0141,"g":5,"w":0.0955},{"q":0.0141,"g":4.25,"w":0.0975},{"q":0.0141,"g":3.5,"w":0.1006},{"q":0.0141,"g":3,"w":0.1048},
{"q":0.0149,"g":10,"w":0.095},{"q":0.0149,"g":8,"w":0.0954},{"q":0.0149,"g":7,"w":0.096},{"q":0.0149,"g":6,"w":0.0965},{"q":0.0149,"g":5,"w":0.0982},{"q":0.0149,"g":4.25,"w":0.1002},{"q":0.0149,"g":3.5,"w":0.1033},{"q":0.0149,"g":3,"w":0.1075},
{"q":0.0157,"g":10,"w":0.0974},{"q":0.0157,"g":8,"w":0.0978},{"q":0.0157,"g":7,"w":0.0984},{"q":0.0157,"g":6,"w":0.0989},{"q":0.0157,"g":5,"w":0.1006},{"q":0.0157,"g":4.25,"w":0.1026},{"q":0.0157,"g":3.5,"w":0.1057},{"q":0.0157,"g":3,"w":0.1099},
{"q":0.0165,"g":10,"w":0.0999},{"q":0.0165,"g":8,"w":0.1003},{"q":0.0165,"g":7,"w":0.1009},{"q":0.0165,"g":6,"w":0.1014},{"q":0.0165,"g":5,"w":0.1031},{"q":0.0165,"g":4.25,"w":0.1051},{"q":0.0165,"g":3.5,"w":0.1082},{"q":0.0165,"g":3,"w":0.1124},
{"q":0.0173,"g":10,"w":0.1022},{"q":0.0173,"g":8,"w":0.1026},{"q":0.0173,"g":7,"w":0.1032},{"q":0.0173,"g":6,"w":0.1037},{"q":0.0173,"g":5,"w":0.1054},{"q":0.0173,"g":4.25,"w":0.1074},{"q":0.0173,"g":3.5,"w":0.1105},{"q":0.0173,"g":3,"w":0.1147},
{"q":0.0181,"g":10,"w":0.1045},{"q":0.0181,"g":8,"w":0.1049},{"q":0.0181,"g":7,"w":0.1055},{"q":0.0181,"g":6,"w":0.106},{"q":0.0181,"g":5,"w":0.1077},{"q":0.0181,"g":4.25,"w":0.1097},{"q":0.0181,"g":3.5,"w":0.1128},{"q":0.0181,"g":3,"w":0.117},
{"q":0.0189,"g":10,"w":0.1065},{"q":0.0189,"g":8,"w":0.1069},{"q":0.0189,"g":7,"w":0.1075},{"q":0.0189,"g":6,"w":0.108},{"q":0.0189,"g":5,"w":0.1097},{"q":0.0189,"g":4.25,"w":0.1117},{"q":0.0189,"g":3.5,"w":0.1148},{"q":0.0189,"g":3,"w":0.119},
{"q":0.0197,"g":10,"w":0.1087},{"q":0.0197,"g":8,"w":0.1091},{"q":0.0197,"g":7,"w":0.1097},{"q":0.0197,"g":6,"w":0.1102},{"q":0.0197,"g":5,"w":0.1119},{"q":0.0197,"g":4.25,"w":0.1139},{"q":0.0197,"g":3.5,"w":0.117},{"q":0.0197,"g":3,"w":0.1212},
{"q":0.0205,"g":10,"w":0.1108},{"q":0.0205,"g":8,"w":0.1112},{"q":0.0205,"g":7,"w":0.1118},{"q":0.0205,"g":6,"w":0.1123},{"q":0.0205,"g":5,"w":0.114},{"q":0.0205,"g":4.25,"w":0.116},{"q":0.0205,"g":3.5,"w":0.1191},{"q":0.0205,"g":3,"w":0.1233},
{"q":0.0212,"g":10,"w":0.113},{"q":0.0212,"g":8,"w":0.1134},{"q":0.0212,"g":7,"w":0.114},{"q":0.0212,"g":6,"w":0.1145},{"q":0.0212,"g":5,"w":0.1162},{"q":0.0212,"g":4.25,"w":0.1182},{"q":0.0212,"g":3.5,"w":0.1213},{"q":0.0212,"g":3,"w":0.1245},
{"q":0.022,"g":10,"w":0.115},{"q":0.022,"g":8,"w":0.1154},{"q":0.022,"g":7,"w":0.116},{"q":0.022,"g":6,"w":0.1164},{"q":0.022,"g":5,"w":0.1179},{"q":0.022,"g":4.25,"w":0.1196},{"q":0.022,"g":3.5,"w":0.1223},{"q":0.022,"g":3,"w":0.1259},
{"q":0.0228,"g":10,"w":0.117},{"q":0.0228,"g":8,"w":0.1174},{"q":0.0228,"g":7,"w":0.118},{"q":0.0228,"g":6,"w":0.1184},{"q":0.0228,"g":5,"w":0.1198},{"q":0.0228,"g":4.25,"w":0.1216},{"q":0.0228,"g":3.5,"w":0.1243},{"q":0.0228,"g":3,"w":0.1277},
{"q":0.0236,"g":10,"w":0.1189},{"q":0.0236,"g":8,"w":0.1193},{"q":0.0236,"g":7,"w":0.1199},{"q":0.0236,"g":6,"w":0.1203},{"q":0.0236,"g":5,"w":0.1217},{"q":0.0236,"g":4.25,"w":0.1235},{"q":0.0236,"g":3.5,"w":0.1262},{"q":0.0236,"g":3,"w":0.1294},
{"q":0.0244,"g":10,"w":0.1208},{"q":0.0244,"g":8,"w":0.1212},{"q":0.0244,"g":7,"w":0.1218},{"q":0.0244,"g":6,"w":0.1222},{"q":0.0244,"g":5,"w":0.1236},{"q":0.0244,"g":4.25,"w":0.1253},{"q":0.0244,"g":3.5,"w":0.128},{"q":0.0244,"g":3,"w":0.1311},
{"q":0.03,"g":10,"w":0.1353},{"q":0.03,"g":8,"w":0.1357},{"q":0.03,"g":7,"w":0.1363},{"q":0.03,"g":6,"w":0.1367},{"q":0.03,"g":5,"w":0.1381},{"q":0.03,"g":4.25,"w":0.1398},{"q":0.03,"g":3.5,"w":0.1425},{"q":0.03,"g":3,"w":0.1456},
{"q":0.0308,"g":10,"w":0.1372},{"q":0.0308,"g":8,"w":0.1376},{"q":0.0308,"g":7,"w":0.1382},{"q":0.0308,"g":6,"w":0.1386},{"q":0.0308,"g":5,"w":0.14},{"q":0.0308,"g":4.25,"w":0.1417},{"q":0.0308,"g":3.5,"w":0.1444},{"q":0.0308,"g":3,"w":0.1475},
{"q":0.0316,"g":10,"w":0.139},{"q":0.0316,"g":8,"w":0.1394},{"q":0.0316,"g":7,"w":0.14},{"q":0.0316,"g":6,"w":0.1404},{"q":0.0316,"g":5,"w":0.1418},{"q":0.0316,"g":4.25,"w":0.1435},{"q":0.0316,"g":3.5,"w":0.1462},{"q":0.0316,"g":3,"w":0.1493},
{"q":0.0323,"g":10,"w":0.1406},{"q":0.0323,"g":8,"w":0.141},{"q":0.0323,"g":7,"w":0.1416},{"q":0.0323,"g":6,"w":0.142},{"q":0.0323,"g":5,"w":0.1434},{"q":0.0323,"g":4.25,"w":0.1451},{"q":0.0323,"g":3.5,"w":0.1478},{"q":0.0323,"g":3,"w":0.15},
{"q":0.0331,"g":10,"w":0.1423},{"q":0.0331,"g":8,"w":0.1427},{"q":0.0331,"g":7,"w":0.1433},{"q":0.0331,"g":6,"w":0.1437},{"q":0.0331,"g":5,"w":0.1451},{"q":0.0331,"g":4.25,"w":0.1468},{"q":0.0331,"g":3.5,"w":0.1495},{"q":0.0331,"g":3,"w":0.15},
{"q":0.0339,"g":10,"w":0.144},{"q":0.0339,"g":8,"w":0.1444},{"q":0.0339,"g":7,"w":0.145},{"q":0.0339,"g":6,"w":0.1454},{"q":0.0339,"g":5,"w":0.1468},{"q":0.0339,"g":4.25,"w":0.1485},{"q":0.0339,"g":3.5,"w":0.15},{"q":0.0339,"g":3,"w":0.15},
{"q":0.0347,"g":10,"w":0.1456},{"q":0.0347,"g":8,"w":0.146},{"q":0.0347,"g":7,"w":0.1466},{"q":0.0347,"g":6,"w":0.147},{"q":0.0347,"g":5,"w":0.1484},{"q":0.0347,"g":4.25,"w":0.15},{"q":0.0347,"g":3.5,"w":0.15},{"q":0.0347,"g":3,"w":0.15},
{"q":0.0355,"g":10,"w":0.147},{"q":0.0355,"g":8,"w":0.1474},{"q":0.0355,"g":7,"w":0.148},{"q":0.0355,"g":6,"w":0.1484},{"q":0.0355,"g":5,"w":0.1498},{"q":0.0355,"g":4.25,"w":0.15},{"q":0.0355,"g":3.5,"w":0.15},{"q":0.0355,"g":3,"w":0.15},
{"q":0.0363,"g":10,"w":0.1482},{"q":0.0363,"g":8,"w":0.1486},{"q":0.0363,"g":7,"w":0.1492},{"q":0.0363,"g":6,"w":0.1496},{"q":0.0363,"g":5,"w":0.15},{"q":0.0363,"g":4.25,"w":0.15},{"q":0.0363,"g":3.5,"w":0.15},{"q":0.0363,"g":3,"w":0.15},
{"q":0.0371,"g":10,"w":0.1494},{"q":0.0371,"g":8,"w":0.1498},{"q":0.0371,"g":7,"w":0.15},{"q":0.0371,"g":6,"w":0.15},{"q":0.0371,"g":5,"w":0.15},{"q":0.0371,"g":4.25,"w":0.15},{"q":0.0371,"g":3.5,"w":0.15},{"q":0.0371,"g":3,"w":0.15}
],
"legendbands":[{"q0":0,"q1":0.0005},{"q0":0.0005,"q1":0.00129},{"q0":0.00129,"q1":0.00208},{"q0":0.00208,"q1":0.00287},{"q0":0.00287,"q1":0.00366},{"q0":0.00366,"q1":0.00445},{"q0":0.00445,"q1":0.00524},{"q0":0.00524,"q1":0.00603},{"q0":0.00603,"q1":0.00682},{"q0":0.00682,"q1":0.00761},{"q0":0.00761,"q1":0.0084},{"q0":0.0084,"q1":0.00919},{"q0":0.00919,"q1":0.00998},{"q0":0.00998,"q1":0.01077},{"q0":0.01077,"q1":0.01156},{"q0":0.01156,"q1":0.01235},{"q0":0.01235,"q1":0.01314},{"q0":0.01314,"q1":0.01393},{"q0":0.01393,"q1":0.01472},{"q0":0.01472,"q1":0.01551},{"q0":0.01551,"q1":0.0163},{"q0":0.0163,"q1":0.01709},{"q0":0.01709,"q1":0.01788},{"q0":0.01788,"q1":0.01867},{"q0":0.01867,"q1":0.01946},{"q0":0.01946,"q1":0.02025},{"q0":0.02025,"q1":0.02104},{"q0":0.02104,"q1":0.02183},{"q0":0.02183,"q1":0.02262},{"q0":0.02262,"q1":0.02341},{"q0":0.02341,"q1":0.0242},{"q0":0.0242,"q1":0.02499},{"q0":0.02499,"q1":0.02578},{"q0":0.02578,"q1":0.02657},{"q0":0.02657,"q1":0.02736},{"q0":0.02736,"q1":0.02815},{"q0":0.02815,"q1":0.02894},{"q0":0.02894,"q1":0.02973},{"q0":0.02973,"q1":0.03052},{"q0":0.03052,"q1":0.03131},{"q0":0.03131,"q1":0.0321},{"q0":0.0321,"q1":0.03289},{"q0":0.03289,"q1":0.03368},{"q0":0.03368,"q1":0.03447},{"q0":0.03447,"q1":0.03526},{"q0":0.03526,"q1":0.03605},{"q0":0.03605,"q1":0.03684},{"q0":0.03684,"q1":0.03805}],
"one":[{"n":1}],
"minorx":[{"w":0.01},{"w":0.03},{"w":0.05},{"w":0.07},{"w":0.09},{"w":0.11},{"w":0.13},{"w":0.15}],
"minory":[{"g":9.5},{"g":8.5},{"g":7.5},{"g":6.5},{"g":5.5},{"g":4.5},{"g":3.5}]
},
"layer":[
{"layer":[
{"data":{"name":"frame"},"transform":[{"filter":"datum.kind!='axis'"},
{"calculate":"(datum.w-.008)/.144","as":"a"},{"calculate":"(10-datum.g)/7","as":"b"},{"calculate":"datum.q/.04","as":"z"},{"calculate":"(datum.w2-.008)/.144","as":"a2"},{"calculate":"(10-datum.g2)/7","as":"b2"},{"calculate":"datum.q2/.04","as":"z2"},
{"calculate":"(-618.52*datum.a+796.77*datum.b+863-47*datum.z)/(.16977*datum.a+.22042*datum.b+1-.0668*datum.z)","as":"sx"},
{"calculate":"(-73.1*datum.a-74.5*datum.b+1168+(-968-10*datum.b-14*datum.a*datum.b)*datum.z)/(.16977*datum.a+.22042*datum.b+1-.0668*datum.z)","as":"sy"},
{"calculate":"(-618.52*datum.a2+796.77*datum.b2+863-47*datum.z2)/(.16977*datum.a2+.22042*datum.b2+1-.0668*datum.z2)","as":"sx2"},
{"calculate":"(-73.1*datum.a2-74.5*datum.b2+1168+(-968-10*datum.b2-14*datum.a2*datum.b2)*datum.z2)/(.16977*datum.a2+.22042*datum.b2+1-.0668*datum.z2)","as":"sy2"}],
"mark":{"type":"rule"},
"encoding":{"x":{"field":"sx","type":"quantitative","scale":null},"y":{"field":"sy","type":"quantitative","scale":null},"x2":{"field":"sx2"},"y2":{"field":"sy2"},
"color":{"field":"kind","type":"nominal","scale":{"domain":["grid","edge"],"range":["#a0a0a0","#333333"]},"legend":null},
"size":{"field":"kind","type":"nominal","scale":{"domain":["grid","edge"],"range":[1.5,1.6]},"legend":null}}},
{"data":{"name":"bars"},"projection":{"type":"identity","scale":1,"translate":[0,0]},
"transform":[
{"calculate":"(datum.w-.008)/.144-.004","as":"a"},{"calculate":"(10-datum.g)/7","as":"b"},{"calculate":"datum.q/.04","as":"z"},
{"calculate":"datum.a-.0092","as":"a0"},{"calculate":"datum.a+.0092","as":"a1"},{"calculate":"datum.b-.00625","as":"b0"},{"calculate":"datum.b+.00625","as":"b1"},
{"calculate":"(-618.52*datum.a1+796.77*datum.b0+863)/(.16977*datum.a1+.22042*datum.b0+1)","as":"xA"},
{"calculate":"(-73.1*datum.a1-74.5*datum.b0+1168)/(.16977*datum.a1+.22042*datum.b0+1)","as":"yA"},
{"calculate":"(-618.52*datum.a0+796.77*datum.b0+863)/(.16977*datum.a0+.22042*datum.b0+1)","as":"xB"},
{"calculate":"(-73.1*datum.a0-74.5*datum.b0+1168)/(.16977*datum.a0+.22042*datum.b0+1)","as":"yB"},
{"calculate":"(-618.52*datum.a0+796.77*datum.b1+863)/(.16977*datum.a0+.22042*datum.b1+1)","as":"xC"},
{"calculate":"(-73.1*datum.a0-74.5*datum.b1+1168)/(.16977*datum.a0+.22042*datum.b1+1)","as":"yC"},
{"calculate":"(-618.52*datum.a1+796.77*datum.b0+863-47*datum.z)/(.16977*datum.a1+.22042*datum.b0+1-.0668*datum.z)","as":"xD"},
{"calculate":"(-73.1*datum.a1-74.5*datum.b0+1168+(-968-10*datum.b0-14*datum.a1*datum.b0)*datum.z)/(.16977*datum.a1+.22042*datum.b0+1-.0668*datum.z)","as":"yD"},
{"calculate":"(-618.52*datum.a0+796.77*datum.b0+863-47*datum.z)/(.16977*datum.a0+.22042*datum.b0+1-.0668*datum.z)","as":"xE"},
{"calculate":"(-73.1*datum.a0-74.5*datum.b0+1168+(-968-10*datum.b0-14*datum.a0*datum.b0)*datum.z)/(.16977*datum.a0+.22042*datum.b0+1-.0668*datum.z)","as":"yE"},
{"calculate":"(-618.52*datum.a0+796.77*datum.b1+863-47*datum.z)/(.16977*datum.a0+.22042*datum.b1+1-.0668*datum.z)","as":"xF"},
{"calculate":"(-73.1*datum.a0-74.5*datum.b1+1168+(-968-10*datum.b1-14*datum.a0*datum.b1)*datum.z)/(.16977*datum.a0+.22042*datum.b1+1-.0668*datum.z)","as":"yF"},
{"calculate":"(-618.52*datum.a1+796.77*datum.b1+863-47*datum.z)/(.16977*datum.a1+.22042*datum.b1+1-.0668*datum.z)","as":"xG"},
{"calculate":"(-73.1*datum.a1-74.5*datum.b1+1168+(-968-10*datum.b1-14*datum.a1*datum.b1)*datum.z)/(.16977*datum.a1+.22042*datum.b1+1-.0668*datum.z)","as":"yG"},
{"calculate":"[{type:'Polygon',coordinates:[[[datum.xA,datum.yA],[datum.xB,datum.yB],[datum.xE,datum.yE],[datum.xD,datum.yD],[datum.xA,datum.yA]]]},{type:'Polygon',coordinates:[[[datum.xB,datum.yB],[datum.xC,datum.yC],[datum.xF,datum.yF],[datum.xE,datum.yE],[datum.xB,datum.yB]]]},{type:'Polygon',coordinates:[[[datum.xE,datum.yE],[datum.xD,datum.yD],[datum.xG,datum.yG],[datum.xF,datum.yF],[datum.xE,datum.yE]]]}]","as":"geo"},
{"calculate":"rgb(pal[clamp(floor((datum.q+.00029)/.00079),0,47)])","as":"c"},
{"calculate":"[1,.6,.68]","as":"shade"},
{"flatten":["geo","shade"]},
{"calculate":"'rgb('+floor(datum.c.r*datum.shade)+','+floor(datum.c.g*datum.shade)+','+floor(datum.c.b*datum.shade)+')'","as":"col"}],
"mark":{"type":"geoshape","stroke":"#505050","strokeWidth":1.2},
"encoding":{"shape":{"field":"geo","type":"geojson"},"color":{"field":"col","type":"nominal","scale":null,"legend":null}}},
{"data":{"name":"frame"},"transform":[{"filter":"datum.kind=='axis'"},
{"calculate":"(datum.w-.008)/.144","as":"a"},{"calculate":"(10-datum.g)/7","as":"b"},{"calculate":"datum.q/.04","as":"z"},{"calculate":"(datum.w2-.008)/.144","as":"a2"},{"calculate":"(10-datum.g2)/7","as":"b2"},{"calculate":"datum.q2/.04","as":"z2"},
{"calculate":"(-618.52*datum.a+796.77*datum.b+863-47*datum.z)/(.16977*datum.a+.22042*datum.b+1-.0668*datum.z)","as":"sx"},
{"calculate":"(-73.1*datum.a-74.5*datum.b+1168+(-968-10*datum.b-14*datum.a*datum.b)*datum.z)/(.16977*datum.a+.22042*datum.b+1-.0668*datum.z)","as":"sy"},
{"calculate":"(-618.52*datum.a2+796.77*datum.b2+863-47*datum.z2)/(.16977*datum.a2+.22042*datum.b2+1-.0668*datum.z2)","as":"sx2"},
{"calculate":"(-73.1*datum.a2-74.5*datum.b2+1168+(-968-10*datum.b2-14*datum.a2*datum.b2)*datum.z2)/(.16977*datum.a2+.22042*datum.b2+1-.0668*datum.z2)","as":"sy2"}],
"layer":[
{"mark":{"type":"rule","color":"black","strokeWidth":10.5,"strokeCap":"round"},"encoding":{"x":{"field":"sx","type":"quantitative","scale":null},"y":{"field":"sy","type":"quantitative","scale":null},"x2":{"field":"sx2"},"y2":{"field":"sy2"}}},
{"transform":[{"filter":"datum.axis=='q'"}],"mark":{"type":"text","font":"Liberation Sans","fontWeight":"bold","fontSize":46,"align":"right","baseline":"middle","dx":-9,"dy":3},"encoding":{"x":{"field":"sx2","type":"quantitative","scale":null},"y":{"field":"sy2","type":"quantitative","scale":null},"text":{"field":"label"}}},
{"transform":[{"filter":"datum.axis=='w'"}],"mark":{"type":"text","font":"Liberation Sans","fontWeight":"bold","fontSize":46,"align":"right","baseline":"middle","dx":-9,"dy":6},"encoding":{"x":{"field":"sx2","type":"quantitative","scale":null},"y":{"field":"sy2","type":"quantitative","scale":null},"text":{"field":"label"}}},
{"transform":[{"filter":"datum.axis=='g'"}],"mark":{"type":"text","font":"Liberation Sans","fontWeight":"bold","fontSize":46,"align":"left","baseline":"middle","dx":9,"dy":4},"encoding":{"x":{"field":"sx2","type":"quantitative","scale":null},"y":{"field":"sy2","type":"quantitative","scale":null},"text":{"field":"label"}}}
]},
{"data":{"name":"one"},"mark":{"type":"text","text":"q'×10⁻³","font":"Liberation Sans","fontWeight":"bold","fontSize":46,"align":"left","baseline":"alphabetic","x":87,"y":109}},
{"data":{"name":"one"},"mark":{"type":"text","text":"ω'×10⁻³","font":"Liberation Sans","fontWeight":"bold","fontSize":46,"align":"left","baseline":"alphabetic","x":287,"y":1144}},
{"data":{"name":"one"},"mark":{"type":"text","text":"γ'×10⁻³","font":"Liberation Sans","fontWeight":"bold","fontSize":44,"align":"left","baseline":"alphabetic","x":1169,"y":1075}},
{"data":{"name":"one"},"mark":{"type":"text","text":"SB","font":"Liberation Sans","fontSize":47,"align":"center","baseline":"alphabetic","x":1240,"y":159}}
]},
{"layer":[
{"data":{"name":"iso"},"transform":[{"calculate":"pal[clamp(floor((datum.q+.00029)/.00079),0,47)]","as":"col"}],
"mark":{"type":"area","orient":"horizontal","interpolate":"linear"},
"encoding":{"y":{"field":"g","type":"quantitative","scale":{"domain":[3,10],"range":[1011,187],"nice":false,"zero":false},
"axis":{"orient":"left","offset":-1770,"values":[3,4,5,6,7,8,9,10],"format":"d","grid":false,"domain":false,"tickSize":15,"tickWidth":11,"tickColor":"black","labelPadding":13,"labelFontSize":41,"labelFont":"Liberation Sans","labelFontWeight":"bold","labelColor":"black","title":"γ'×10⁻³","titleFont":"Liberation Sans","titleFontWeight":"bold","titleFontSize":50,"titleColor":"black","titleAngle":-90,"titleX":-100,"titleY":599,"titleBaseline":"alphabetic","titleAlign":"center","zindex":1}},
"x":{"field":"w","type":"quantitative","stack":false,"scale":{"domain":[0.008,0.15],"range":[1770,2629.5],"nice":false,"zero":false},
"axis":{"orient":"bottom","offset":-212,"values":[0.02,0.04,0.06,0.08,0.1,0.12,0.14],"format":".2f","grid":false,"domain":false,"tickSize":16,"tickWidth":11,"tickColor":"black","labelPadding":10,"labelFontSize":41,"labelFont":"Liberation Sans","labelFontWeight":"bold","labelColor":"black","title":"ω'×10⁻³","titleFont":"Liberation Sans","titleFontWeight":"bold","titleFontSize":50,"titleColor":"black","titleX":2200,"titleY":155,"titleBaseline":"alphabetic","titleAlign":"center","zindex":1}},
"x2":{"datum":0.15},"detail":{"field":"q"},"color":{"field":"col","type":"nominal","scale":null,"legend":null}}},
{"data":{"name":"minorx"},"mark":{"type":"rule","color":"black","strokeWidth":10},"encoding":{"x":{"field":"w","type":"quantitative"},"y":{"datum":3,"type":"quantitative"},"y2":{"datum":2.92}}},
{"data":{"name":"minory"},"mark":{"type":"rule","color":"black","strokeWidth":10},"encoding":{"y":{"field":"g","type":"quantitative"},"x":{"datum":0.008,"type":"quantitative"},"x2":{"datum":0.0068}}},
{"data":{"name":"one"},"mark":{"type":"rect","filled":false,"stroke":"black","strokeWidth":10.5},"encoding":{"x":{"datum":0.008,"type":"quantitative"},"x2":{"datum":0.15},"y":{"datum":3,"type":"quantitative"},"y2":{"datum":10}}}
]},
{"layer":[
{"data":{"name":"legendbands"},"transform":[{"calculate":"pal[clamp(floor(((datum.q0+datum.q1)/2+.00029)/.00079),0,47)]","as":"col"}],
"mark":{"type":"rect"},
"encoding":{"x":{"datum":0,"type":"quantitative","scale":{"domain":[0,1],"range":[2708,2771],"nice":false,"zero":false},"axis":null},"x2":{"datum":1},
"y":{"field":"q0","type":"quantitative","scale":{"domain":[0,0.03805],"range":[1011,187],"nice":false,"zero":false},
"axis":{"orient":"right","offset":-174.5,"values":[0,0.007,0.014,0.021,0.028,0.035],"labelExpr":"datum.value==0?'0.0':datum.value==0.007?'0.0070':format(datum.value,'.3f')","grid":false,"domain":false,"tickSize":17,"tickWidth":11,"tickColor":"black","labelPadding":15,"labelFontSize":34,"labelFont":"Liberation Sans","labelFontWeight":"bold","labelColor":"black","title":"q'×10⁻³","titleFont":"Liberation Sans","titleFontWeight":"bold","titleFontSize":45,"titleColor":"black","titleAngle":0,"titleX":-36.5,"titleY":153,"titleBaseline":"alphabetic","titleAlign":"center","zindex":1}},
"y2":{"field":"q1"},"color":{"field":"col","type":"nominal","scale":null,"legend":null}}},
{"data":{"name":"one"},"mark":{"type":"rect","filled":false,"stroke":"black","strokeWidth":10.5},"encoding":{"x":{"datum":-0.079,"type":"quantitative"},"x2":{"datum":1.087},"y":{"datum":0,"type":"quantitative"},"y2":{"datum":0.03805}}}
]}
],
"resolve":{"scale":{"x":"independent","y":"independent"},"axis":{"x":"independent","y":"independent"}}
}
